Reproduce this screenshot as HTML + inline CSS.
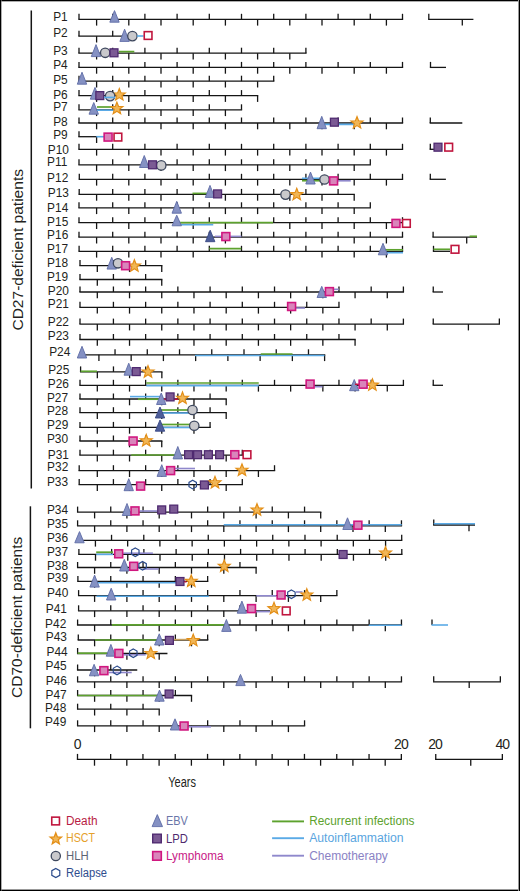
<!DOCTYPE html>
<html><head><meta charset="utf-8"><title>Figure</title>
<style>
html,body{margin:0;padding:0;background:#fff;}
body{width:520px;height:891px;overflow:hidden;font-family:"Liberation Sans",sans-serif;}
svg{display:block;}
</style></head><body>
<svg width="520" height="891" viewBox="0 0 520 891">
<rect x="0" y="0" width="520" height="891" fill="#ffffff"/>
<rect x="0" y="0" width="520" height="1" fill="#000"/>
<rect x="0" y="1" width="520" height="0.6" fill="#777"/>
<rect x="0" y="890" width="520" height="1" fill="#000"/>
<rect x="0" y="889" width="520" height="1" fill="#999"/>
<rect x="0" y="0" width="1" height="891" fill="#000"/>
<rect x="1" y="0" width="0.6" height="891" fill="#777"/>
<rect x="519" y="0" width="1" height="891" fill="#000"/>
<rect x="518" y="0" width="1" height="891" fill="#999"/>
<line x1="31.3" y1="10.5" x2="31.3" y2="488.5" stroke="#151515" stroke-width="1.5" stroke-linecap="butt"/>
<line x1="30.4" y1="506.3" x2="30.4" y2="728.3" stroke="#151515" stroke-width="1.5" stroke-linecap="butt"/>
<text transform="translate(22.9,330.6) rotate(-90)" font-family="Liberation Sans" font-size="15.5" fill="#231f20" textLength="161.6" lengthAdjust="spacingAndGlyphs">CD27-deficient patients</text>
<text transform="translate(22.0,697.9) rotate(-90)" font-family="Liberation Sans" font-size="15.5" fill="#231f20" textLength="161.2" lengthAdjust="spacingAndGlyphs">CD70-deficient patients</text>
<g font-family="Liberation Sans" font-size="11.9" fill="#231f20">
<text x="53.2" y="21.3">P1</text>
<text x="53.2" y="37.3">P2</text>
<text x="53.2" y="55">P3</text>
<text x="53.2" y="69.4">P4</text>
<text x="53.2" y="83.9">P5</text>
<text x="53.2" y="98.5">P6</text>
<text x="53.2" y="110.9">P7</text>
<text x="53.2" y="125.7">P8</text>
<text x="53.2" y="139.4">P9</text>
<text x="47.8" y="153.5">P10</text>
<text x="47.1" y="166.3">P11</text>
<text x="47.1" y="181.8">P12</text>
<text x="47.8" y="196.6">P13</text>
<text x="47.1" y="211.7">P14</text>
<text x="47.1" y="225.8">P15</text>
<text x="47.1" y="239.3">P16</text>
<text x="46.9" y="253">P17</text>
<text x="46.9" y="267.2">P18</text>
<text x="46.9" y="280.9">P19</text>
<text x="47.8" y="295">P20</text>
<text x="47.8" y="307.8">P21</text>
<text x="47.8" y="325.6">P22</text>
<text x="47.8" y="340.2">P23</text>
<text x="49.2" y="355.6">P24</text>
<text x="48.2" y="374">P25</text>
<text x="47.8" y="388.1">P26</text>
<text x="46.9" y="401.7">P27</text>
<text x="46.9" y="415.4">P28</text>
<text x="47.1" y="428.9">P29</text>
<text x="46.9" y="443.3">P30</text>
<text x="47.8" y="458.5">P31</text>
<text x="47.1" y="471.3">P32</text>
<text x="46.9" y="486.3">P33</text>
<text x="46.9" y="513.9">P34</text>
<text x="46.9" y="527.7">P35</text>
<text x="46.9" y="542.1">P36</text>
<text x="46.9" y="556">P37</text>
<text x="46.9" y="569.8">P38</text>
<text x="46.9" y="582.3">P39</text>
<text x="47.1" y="596.9">P40</text>
<text x="45.8" y="613.1">P41</text>
<text x="45.1" y="627.9">P42</text>
<text x="45.8" y="641.4">P43</text>
<text x="46.5" y="656.2">P44</text>
<text x="45.5" y="669.7">P45</text>
<text x="45.8" y="685.2">P46</text>
<text x="45.5" y="699.3">P47</text>
<text x="45.1" y="711.8">P48</text>
<text x="45.1" y="725.8">P49</text>
</g>
<line x1="78.35" y1="19.3" x2="403.15" y2="19.3" stroke="#151515" stroke-width="1.3" stroke-linecap="butt"/>
<line x1="79" y1="19.3" x2="79" y2="13.8" stroke="#151515" stroke-width="1.3" stroke-linecap="butt"/>
<line x1="96.6" y1="19.3" x2="96.6" y2="25.6" stroke="#151515" stroke-width="1.3" stroke-linecap="butt"/>
<line x1="112.7" y1="19.3" x2="112.7" y2="13.8" stroke="#151515" stroke-width="1.3" stroke-linecap="butt"/>
<line x1="128.8" y1="19.3" x2="128.8" y2="25.6" stroke="#151515" stroke-width="1.3" stroke-linecap="butt"/>
<line x1="144.9" y1="19.3" x2="144.9" y2="13.8" stroke="#151515" stroke-width="1.3" stroke-linecap="butt"/>
<line x1="161" y1="19.3" x2="161" y2="25.6" stroke="#151515" stroke-width="1.3" stroke-linecap="butt"/>
<line x1="177.1" y1="19.3" x2="177.1" y2="13.8" stroke="#151515" stroke-width="1.3" stroke-linecap="butt"/>
<line x1="193.2" y1="19.3" x2="193.2" y2="25.6" stroke="#151515" stroke-width="1.3" stroke-linecap="butt"/>
<line x1="209.3" y1="19.3" x2="209.3" y2="13.8" stroke="#151515" stroke-width="1.3" stroke-linecap="butt"/>
<line x1="225.4" y1="19.3" x2="225.4" y2="25.6" stroke="#151515" stroke-width="1.3" stroke-linecap="butt"/>
<line x1="241.5" y1="19.3" x2="241.5" y2="13.8" stroke="#151515" stroke-width="1.3" stroke-linecap="butt"/>
<line x1="257.6" y1="19.3" x2="257.6" y2="25.6" stroke="#151515" stroke-width="1.3" stroke-linecap="butt"/>
<line x1="273.7" y1="19.3" x2="273.7" y2="13.8" stroke="#151515" stroke-width="1.3" stroke-linecap="butt"/>
<line x1="289.8" y1="19.3" x2="289.8" y2="25.6" stroke="#151515" stroke-width="1.3" stroke-linecap="butt"/>
<line x1="305.9" y1="19.3" x2="305.9" y2="13.8" stroke="#151515" stroke-width="1.3" stroke-linecap="butt"/>
<line x1="322" y1="19.3" x2="322" y2="25.6" stroke="#151515" stroke-width="1.3" stroke-linecap="butt"/>
<line x1="338.1" y1="19.3" x2="338.1" y2="13.8" stroke="#151515" stroke-width="1.3" stroke-linecap="butt"/>
<line x1="354.2" y1="19.3" x2="354.2" y2="25.6" stroke="#151515" stroke-width="1.3" stroke-linecap="butt"/>
<line x1="370.3" y1="19.3" x2="370.3" y2="13.8" stroke="#151515" stroke-width="1.3" stroke-linecap="butt"/>
<line x1="386.4" y1="19.3" x2="386.4" y2="25.6" stroke="#151515" stroke-width="1.3" stroke-linecap="butt"/>
<line x1="402.5" y1="19.3" x2="402.5" y2="13.8" stroke="#151515" stroke-width="1.3" stroke-linecap="butt"/>
<line x1="428.15" y1="19.3" x2="473.4" y2="19.3" stroke="#151515" stroke-width="1.3" stroke-linecap="butt"/>
<line x1="428.8" y1="19.3" x2="428.8" y2="13.8" stroke="#151515" stroke-width="1.3" stroke-linecap="butt"/>
<line x1="462.3" y1="19.3" x2="462.3" y2="25.6" stroke="#151515" stroke-width="1.3" stroke-linecap="butt"/>
<path d="M114.5 10.6L119.2 22.2L109.8 22.2Z" fill="#8591c3" stroke="#5f6ca6" stroke-width="0.9" stroke-linejoin="miter"/>
<line x1="78.35" y1="36.2" x2="128" y2="36.2" stroke="#151515" stroke-width="1.3" stroke-linecap="butt"/>
<line x1="79" y1="36.2" x2="79" y2="30.7" stroke="#151515" stroke-width="1.3" stroke-linecap="butt"/>
<line x1="96.6" y1="36.2" x2="96.6" y2="42.5" stroke="#151515" stroke-width="1.3" stroke-linecap="butt"/>
<line x1="112.7" y1="36.2" x2="112.7" y2="30.7" stroke="#151515" stroke-width="1.3" stroke-linecap="butt"/>
<path d="M124.6 29.2L129.3 41.4L119.9 41.4Z" fill="#8591c3" stroke="#5f6ca6" stroke-width="0.9" stroke-linejoin="miter"/>
<circle cx="132.4" cy="36.1" r="4.7" fill="#c9c9cc" stroke="#3e485e" stroke-width="1.3"/>
<line x1="137" y1="36" x2="143.6" y2="36" stroke="#5aaae6" stroke-width="1.6" stroke-linecap="butt"/>
<rect x="144.25" y="31.65" width="7.7" height="7.7" fill="#ffffff" stroke="#c0163e" stroke-width="1.6"/>
<line x1="78.35" y1="53.2" x2="306.55" y2="53.2" stroke="#151515" stroke-width="1.3" stroke-linecap="butt"/>
<line x1="79" y1="53.2" x2="79" y2="47.7" stroke="#151515" stroke-width="1.3" stroke-linecap="butt"/>
<line x1="96.6" y1="53.2" x2="96.6" y2="59.5" stroke="#151515" stroke-width="1.3" stroke-linecap="butt"/>
<line x1="112.7" y1="53.2" x2="112.7" y2="47.7" stroke="#151515" stroke-width="1.3" stroke-linecap="butt"/>
<line x1="128.8" y1="53.2" x2="128.8" y2="59.5" stroke="#151515" stroke-width="1.3" stroke-linecap="butt"/>
<line x1="144.9" y1="53.2" x2="144.9" y2="47.7" stroke="#151515" stroke-width="1.3" stroke-linecap="butt"/>
<line x1="161" y1="53.2" x2="161" y2="59.5" stroke="#151515" stroke-width="1.3" stroke-linecap="butt"/>
<line x1="177.1" y1="53.2" x2="177.1" y2="47.7" stroke="#151515" stroke-width="1.3" stroke-linecap="butt"/>
<line x1="193.2" y1="53.2" x2="193.2" y2="59.5" stroke="#151515" stroke-width="1.3" stroke-linecap="butt"/>
<line x1="209.3" y1="53.2" x2="209.3" y2="47.7" stroke="#151515" stroke-width="1.3" stroke-linecap="butt"/>
<line x1="225.4" y1="53.2" x2="225.4" y2="59.5" stroke="#151515" stroke-width="1.3" stroke-linecap="butt"/>
<line x1="241.5" y1="53.2" x2="241.5" y2="47.7" stroke="#151515" stroke-width="1.3" stroke-linecap="butt"/>
<line x1="257.6" y1="53.2" x2="257.6" y2="59.5" stroke="#151515" stroke-width="1.3" stroke-linecap="butt"/>
<line x1="273.7" y1="53.2" x2="273.7" y2="47.7" stroke="#151515" stroke-width="1.3" stroke-linecap="butt"/>
<line x1="289.8" y1="53.2" x2="289.8" y2="59.5" stroke="#151515" stroke-width="1.3" stroke-linecap="butt"/>
<line x1="305.9" y1="53.2" x2="305.9" y2="47.7" stroke="#151515" stroke-width="1.3" stroke-linecap="butt"/>
<line x1="118.7" y1="51.6" x2="134.3" y2="51.6" stroke="#5da22e" stroke-width="1.7" stroke-linecap="butt"/>
<path d="M96 44.6L100.7 56.6L91.3 56.6Z" fill="#8591c3" stroke="#5f6ca6" stroke-width="0.9" stroke-linejoin="miter"/>
<circle cx="105.2" cy="52.8" r="4.7" fill="#c9c9cc" stroke="#3e485e" stroke-width="1.3"/>
<rect x="110.05" y="48.85" width="7.9" height="7.9" fill="#7b5a94" stroke="#4f2a70" stroke-width="1.3"/>
<line x1="78.35" y1="67.4" x2="403.15" y2="67.4" stroke="#151515" stroke-width="1.3" stroke-linecap="butt"/>
<line x1="79" y1="67.4" x2="79" y2="61.9" stroke="#151515" stroke-width="1.3" stroke-linecap="butt"/>
<line x1="96.6" y1="67.4" x2="96.6" y2="73.7" stroke="#151515" stroke-width="1.3" stroke-linecap="butt"/>
<line x1="112.7" y1="67.4" x2="112.7" y2="61.9" stroke="#151515" stroke-width="1.3" stroke-linecap="butt"/>
<line x1="128.8" y1="67.4" x2="128.8" y2="73.7" stroke="#151515" stroke-width="1.3" stroke-linecap="butt"/>
<line x1="144.9" y1="67.4" x2="144.9" y2="61.9" stroke="#151515" stroke-width="1.3" stroke-linecap="butt"/>
<line x1="161" y1="67.4" x2="161" y2="73.7" stroke="#151515" stroke-width="1.3" stroke-linecap="butt"/>
<line x1="177.1" y1="67.4" x2="177.1" y2="61.9" stroke="#151515" stroke-width="1.3" stroke-linecap="butt"/>
<line x1="193.2" y1="67.4" x2="193.2" y2="73.7" stroke="#151515" stroke-width="1.3" stroke-linecap="butt"/>
<line x1="209.3" y1="67.4" x2="209.3" y2="61.9" stroke="#151515" stroke-width="1.3" stroke-linecap="butt"/>
<line x1="225.4" y1="67.4" x2="225.4" y2="73.7" stroke="#151515" stroke-width="1.3" stroke-linecap="butt"/>
<line x1="241.5" y1="67.4" x2="241.5" y2="61.9" stroke="#151515" stroke-width="1.3" stroke-linecap="butt"/>
<line x1="257.6" y1="67.4" x2="257.6" y2="73.7" stroke="#151515" stroke-width="1.3" stroke-linecap="butt"/>
<line x1="273.7" y1="67.4" x2="273.7" y2="61.9" stroke="#151515" stroke-width="1.3" stroke-linecap="butt"/>
<line x1="289.8" y1="67.4" x2="289.8" y2="73.7" stroke="#151515" stroke-width="1.3" stroke-linecap="butt"/>
<line x1="305.9" y1="67.4" x2="305.9" y2="61.9" stroke="#151515" stroke-width="1.3" stroke-linecap="butt"/>
<line x1="322" y1="67.4" x2="322" y2="73.7" stroke="#151515" stroke-width="1.3" stroke-linecap="butt"/>
<line x1="338.1" y1="67.4" x2="338.1" y2="61.9" stroke="#151515" stroke-width="1.3" stroke-linecap="butt"/>
<line x1="354.2" y1="67.4" x2="354.2" y2="73.7" stroke="#151515" stroke-width="1.3" stroke-linecap="butt"/>
<line x1="370.3" y1="67.4" x2="370.3" y2="61.9" stroke="#151515" stroke-width="1.3" stroke-linecap="butt"/>
<line x1="386.4" y1="67.4" x2="386.4" y2="73.7" stroke="#151515" stroke-width="1.3" stroke-linecap="butt"/>
<line x1="402.5" y1="67.4" x2="402.5" y2="61.9" stroke="#151515" stroke-width="1.3" stroke-linecap="butt"/>
<line x1="429.85" y1="67.4" x2="446" y2="67.4" stroke="#151515" stroke-width="1.3" stroke-linecap="butt"/>
<line x1="430.5" y1="67.4" x2="430.5" y2="61.9" stroke="#151515" stroke-width="1.3" stroke-linecap="butt"/>
<line x1="78.35" y1="81.2" x2="274.35" y2="81.2" stroke="#151515" stroke-width="1.3" stroke-linecap="butt"/>
<line x1="79" y1="81.2" x2="79" y2="75.7" stroke="#151515" stroke-width="1.3" stroke-linecap="butt"/>
<line x1="96.6" y1="81.2" x2="96.6" y2="87.5" stroke="#151515" stroke-width="1.3" stroke-linecap="butt"/>
<line x1="112.7" y1="81.2" x2="112.7" y2="75.7" stroke="#151515" stroke-width="1.3" stroke-linecap="butt"/>
<line x1="128.8" y1="81.2" x2="128.8" y2="87.5" stroke="#151515" stroke-width="1.3" stroke-linecap="butt"/>
<line x1="144.9" y1="81.2" x2="144.9" y2="75.7" stroke="#151515" stroke-width="1.3" stroke-linecap="butt"/>
<line x1="161" y1="81.2" x2="161" y2="87.5" stroke="#151515" stroke-width="1.3" stroke-linecap="butt"/>
<line x1="177.1" y1="81.2" x2="177.1" y2="75.7" stroke="#151515" stroke-width="1.3" stroke-linecap="butt"/>
<line x1="193.2" y1="81.2" x2="193.2" y2="87.5" stroke="#151515" stroke-width="1.3" stroke-linecap="butt"/>
<line x1="209.3" y1="81.2" x2="209.3" y2="75.7" stroke="#151515" stroke-width="1.3" stroke-linecap="butt"/>
<line x1="225.4" y1="81.2" x2="225.4" y2="87.5" stroke="#151515" stroke-width="1.3" stroke-linecap="butt"/>
<line x1="241.5" y1="81.2" x2="241.5" y2="75.7" stroke="#151515" stroke-width="1.3" stroke-linecap="butt"/>
<line x1="257.6" y1="81.2" x2="257.6" y2="87.5" stroke="#151515" stroke-width="1.3" stroke-linecap="butt"/>
<line x1="273.7" y1="81.2" x2="273.7" y2="75.7" stroke="#151515" stroke-width="1.3" stroke-linecap="butt"/>
<path d="M82 72.2L86.7 84.2L77.3 84.2Z" fill="#8591c3" stroke="#5f6ca6" stroke-width="0.9" stroke-linejoin="miter"/>
<line x1="78.35" y1="95.6" x2="258.25" y2="95.6" stroke="#151515" stroke-width="1.3" stroke-linecap="butt"/>
<line x1="79" y1="95.6" x2="79" y2="90.1" stroke="#151515" stroke-width="1.3" stroke-linecap="butt"/>
<line x1="96.6" y1="95.6" x2="96.6" y2="101.9" stroke="#151515" stroke-width="1.3" stroke-linecap="butt"/>
<line x1="112.7" y1="95.6" x2="112.7" y2="90.1" stroke="#151515" stroke-width="1.3" stroke-linecap="butt"/>
<line x1="128.8" y1="95.6" x2="128.8" y2="101.9" stroke="#151515" stroke-width="1.3" stroke-linecap="butt"/>
<line x1="144.9" y1="95.6" x2="144.9" y2="90.1" stroke="#151515" stroke-width="1.3" stroke-linecap="butt"/>
<line x1="161" y1="95.6" x2="161" y2="101.9" stroke="#151515" stroke-width="1.3" stroke-linecap="butt"/>
<line x1="177.1" y1="95.6" x2="177.1" y2="90.1" stroke="#151515" stroke-width="1.3" stroke-linecap="butt"/>
<line x1="193.2" y1="95.6" x2="193.2" y2="101.9" stroke="#151515" stroke-width="1.3" stroke-linecap="butt"/>
<line x1="209.3" y1="95.6" x2="209.3" y2="90.1" stroke="#151515" stroke-width="1.3" stroke-linecap="butt"/>
<line x1="225.4" y1="95.6" x2="225.4" y2="101.9" stroke="#151515" stroke-width="1.3" stroke-linecap="butt"/>
<line x1="241.5" y1="95.6" x2="241.5" y2="90.1" stroke="#151515" stroke-width="1.3" stroke-linecap="butt"/>
<line x1="257.6" y1="95.6" x2="257.6" y2="101.9" stroke="#151515" stroke-width="1.3" stroke-linecap="butt"/>
<path d="M95 87.4L99.7 99.2L90.3 99.2Z" fill="#8591c3" stroke="#5f6ca6" stroke-width="0.9" stroke-linejoin="miter"/>
<rect x="95.85" y="91.65" width="7.9" height="7.9" fill="#7b5a94" stroke="#4f2a70" stroke-width="1.3"/>
<polygon points="119.3,88.55 120.89,92.72 125.34,92.94 121.87,95.73 123.03,100.04 119.3,97.6 115.57,100.04 116.73,95.73 113.26,92.94 117.71,92.72" fill="#f1b656" stroke="#e38f18" stroke-width="1.15" stroke-linejoin="miter"/>
<circle cx="110.1" cy="96.1" r="4.7" fill="#c9c9cc" stroke="#3e485e" stroke-width="1.3"/>
<line x1="104" y1="97.4" x2="115" y2="97.4" stroke="#5aaae6" stroke-width="1.6" stroke-linecap="butt"/>
<line x1="78.35" y1="109.8" x2="242.15" y2="109.8" stroke="#151515" stroke-width="1.3" stroke-linecap="butt"/>
<line x1="79" y1="109.8" x2="79" y2="104.3" stroke="#151515" stroke-width="1.3" stroke-linecap="butt"/>
<line x1="96.6" y1="109.8" x2="96.6" y2="116.1" stroke="#151515" stroke-width="1.3" stroke-linecap="butt"/>
<line x1="112.7" y1="109.8" x2="112.7" y2="104.3" stroke="#151515" stroke-width="1.3" stroke-linecap="butt"/>
<line x1="128.8" y1="109.8" x2="128.8" y2="116.1" stroke="#151515" stroke-width="1.3" stroke-linecap="butt"/>
<line x1="144.9" y1="109.8" x2="144.9" y2="104.3" stroke="#151515" stroke-width="1.3" stroke-linecap="butt"/>
<line x1="161" y1="109.8" x2="161" y2="116.1" stroke="#151515" stroke-width="1.3" stroke-linecap="butt"/>
<line x1="177.1" y1="109.8" x2="177.1" y2="104.3" stroke="#151515" stroke-width="1.3" stroke-linecap="butt"/>
<line x1="193.2" y1="109.8" x2="193.2" y2="116.1" stroke="#151515" stroke-width="1.3" stroke-linecap="butt"/>
<line x1="209.3" y1="109.8" x2="209.3" y2="104.3" stroke="#151515" stroke-width="1.3" stroke-linecap="butt"/>
<line x1="225.4" y1="109.8" x2="225.4" y2="116.1" stroke="#151515" stroke-width="1.3" stroke-linecap="butt"/>
<line x1="241.5" y1="109.8" x2="241.5" y2="104.3" stroke="#151515" stroke-width="1.3" stroke-linecap="butt"/>
<path d="M93.75 102.5L98.45 114.2L89.05 114.2Z" fill="#8591c3" stroke="#5f6ca6" stroke-width="0.9" stroke-linejoin="miter"/>
<line x1="97" y1="107" x2="114" y2="107" stroke="#5da22e" stroke-width="1.7" stroke-linecap="butt"/>
<line x1="97" y1="110.2" x2="114" y2="110.2" stroke="#5aaae6" stroke-width="1.6" stroke-linecap="butt"/>
<polygon points="116.9,102.15 118.49,106.32 122.94,106.54 119.47,109.33 120.63,113.64 116.9,111.2 113.17,113.64 114.33,109.33 110.86,106.54 115.31,106.32" fill="#f1b656" stroke="#e38f18" stroke-width="1.15" stroke-linejoin="miter"/>
<line x1="78.35" y1="123" x2="403.15" y2="123" stroke="#151515" stroke-width="1.3" stroke-linecap="butt"/>
<line x1="79" y1="123" x2="79" y2="117.5" stroke="#151515" stroke-width="1.3" stroke-linecap="butt"/>
<line x1="96.6" y1="123" x2="96.6" y2="129.3" stroke="#151515" stroke-width="1.3" stroke-linecap="butt"/>
<line x1="112.7" y1="123" x2="112.7" y2="117.5" stroke="#151515" stroke-width="1.3" stroke-linecap="butt"/>
<line x1="128.8" y1="123" x2="128.8" y2="129.3" stroke="#151515" stroke-width="1.3" stroke-linecap="butt"/>
<line x1="144.9" y1="123" x2="144.9" y2="117.5" stroke="#151515" stroke-width="1.3" stroke-linecap="butt"/>
<line x1="161" y1="123" x2="161" y2="129.3" stroke="#151515" stroke-width="1.3" stroke-linecap="butt"/>
<line x1="177.1" y1="123" x2="177.1" y2="117.5" stroke="#151515" stroke-width="1.3" stroke-linecap="butt"/>
<line x1="193.2" y1="123" x2="193.2" y2="129.3" stroke="#151515" stroke-width="1.3" stroke-linecap="butt"/>
<line x1="209.3" y1="123" x2="209.3" y2="117.5" stroke="#151515" stroke-width="1.3" stroke-linecap="butt"/>
<line x1="225.4" y1="123" x2="225.4" y2="129.3" stroke="#151515" stroke-width="1.3" stroke-linecap="butt"/>
<line x1="241.5" y1="123" x2="241.5" y2="117.5" stroke="#151515" stroke-width="1.3" stroke-linecap="butt"/>
<line x1="257.6" y1="123" x2="257.6" y2="129.3" stroke="#151515" stroke-width="1.3" stroke-linecap="butt"/>
<line x1="273.7" y1="123" x2="273.7" y2="117.5" stroke="#151515" stroke-width="1.3" stroke-linecap="butt"/>
<line x1="289.8" y1="123" x2="289.8" y2="129.3" stroke="#151515" stroke-width="1.3" stroke-linecap="butt"/>
<line x1="305.9" y1="123" x2="305.9" y2="117.5" stroke="#151515" stroke-width="1.3" stroke-linecap="butt"/>
<line x1="322" y1="123" x2="322" y2="129.3" stroke="#151515" stroke-width="1.3" stroke-linecap="butt"/>
<line x1="338.1" y1="123" x2="338.1" y2="117.5" stroke="#151515" stroke-width="1.3" stroke-linecap="butt"/>
<line x1="354.2" y1="123" x2="354.2" y2="129.3" stroke="#151515" stroke-width="1.3" stroke-linecap="butt"/>
<line x1="370.3" y1="123" x2="370.3" y2="117.5" stroke="#151515" stroke-width="1.3" stroke-linecap="butt"/>
<line x1="386.4" y1="123" x2="386.4" y2="129.3" stroke="#151515" stroke-width="1.3" stroke-linecap="butt"/>
<line x1="402.5" y1="123" x2="402.5" y2="117.5" stroke="#151515" stroke-width="1.3" stroke-linecap="butt"/>
<line x1="429.65" y1="123" x2="462.3" y2="123" stroke="#151515" stroke-width="1.3" stroke-linecap="butt"/>
<line x1="430.3" y1="123" x2="430.3" y2="117.5" stroke="#151515" stroke-width="1.3" stroke-linecap="butt"/>
<line x1="321.75" y1="124.4" x2="357" y2="124.4" stroke="#5aaae6" stroke-width="1.7" stroke-linecap="butt"/>
<path d="M321.75 116.3L326.45 128.7L317.05 128.7Z" fill="#8591c3" stroke="#5f6ca6" stroke-width="0.9" stroke-linejoin="miter"/>
<rect x="330.45" y="118.25" width="7.9" height="7.9" fill="#7b5a94" stroke="#4f2a70" stroke-width="1.3"/>
<polygon points="357,116.55 358.59,120.72 363.04,120.94 359.57,123.73 360.73,128.04 357,125.6 353.27,128.04 354.43,123.73 350.96,120.94 355.41,120.72" fill="#f1b656" stroke="#e38f18" stroke-width="1.15" stroke-linejoin="miter"/>
<line x1="78.35" y1="136.7" x2="97.15" y2="136.7" stroke="#151515" stroke-width="1.3" stroke-linecap="butt"/>
<line x1="79" y1="136.7" x2="79" y2="131.2" stroke="#151515" stroke-width="1.3" stroke-linecap="butt"/>
<line x1="96.6" y1="136.7" x2="96.6" y2="143" stroke="#151515" stroke-width="1.3" stroke-linecap="butt"/>
<line x1="96.3" y1="136.7" x2="104" y2="136.7" stroke="#5aaae6" stroke-width="1.6" stroke-linecap="butt"/>
<rect x="104.15" y="133.15" width="7.9" height="7.9" fill="#d985bb" stroke="#d0177f" stroke-width="1.6"/>
<rect x="114.05" y="133.25" width="7.7" height="7.7" fill="#ffffff" stroke="#c0163e" stroke-width="1.6"/>
<line x1="78.35" y1="149.3" x2="403.15" y2="149.3" stroke="#151515" stroke-width="1.3" stroke-linecap="butt"/>
<line x1="79" y1="149.3" x2="79" y2="143.8" stroke="#151515" stroke-width="1.3" stroke-linecap="butt"/>
<line x1="96.6" y1="149.3" x2="96.6" y2="155.6" stroke="#151515" stroke-width="1.3" stroke-linecap="butt"/>
<line x1="112.7" y1="149.3" x2="112.7" y2="143.8" stroke="#151515" stroke-width="1.3" stroke-linecap="butt"/>
<line x1="128.8" y1="149.3" x2="128.8" y2="155.6" stroke="#151515" stroke-width="1.3" stroke-linecap="butt"/>
<line x1="144.9" y1="149.3" x2="144.9" y2="143.8" stroke="#151515" stroke-width="1.3" stroke-linecap="butt"/>
<line x1="161" y1="149.3" x2="161" y2="155.6" stroke="#151515" stroke-width="1.3" stroke-linecap="butt"/>
<line x1="177.1" y1="149.3" x2="177.1" y2="143.8" stroke="#151515" stroke-width="1.3" stroke-linecap="butt"/>
<line x1="193.2" y1="149.3" x2="193.2" y2="155.6" stroke="#151515" stroke-width="1.3" stroke-linecap="butt"/>
<line x1="209.3" y1="149.3" x2="209.3" y2="143.8" stroke="#151515" stroke-width="1.3" stroke-linecap="butt"/>
<line x1="225.4" y1="149.3" x2="225.4" y2="155.6" stroke="#151515" stroke-width="1.3" stroke-linecap="butt"/>
<line x1="241.5" y1="149.3" x2="241.5" y2="143.8" stroke="#151515" stroke-width="1.3" stroke-linecap="butt"/>
<line x1="257.6" y1="149.3" x2="257.6" y2="155.6" stroke="#151515" stroke-width="1.3" stroke-linecap="butt"/>
<line x1="273.7" y1="149.3" x2="273.7" y2="143.8" stroke="#151515" stroke-width="1.3" stroke-linecap="butt"/>
<line x1="289.8" y1="149.3" x2="289.8" y2="155.6" stroke="#151515" stroke-width="1.3" stroke-linecap="butt"/>
<line x1="305.9" y1="149.3" x2="305.9" y2="143.8" stroke="#151515" stroke-width="1.3" stroke-linecap="butt"/>
<line x1="322" y1="149.3" x2="322" y2="155.6" stroke="#151515" stroke-width="1.3" stroke-linecap="butt"/>
<line x1="338.1" y1="149.3" x2="338.1" y2="143.8" stroke="#151515" stroke-width="1.3" stroke-linecap="butt"/>
<line x1="354.2" y1="149.3" x2="354.2" y2="155.6" stroke="#151515" stroke-width="1.3" stroke-linecap="butt"/>
<line x1="370.3" y1="149.3" x2="370.3" y2="143.8" stroke="#151515" stroke-width="1.3" stroke-linecap="butt"/>
<line x1="386.4" y1="149.3" x2="386.4" y2="155.6" stroke="#151515" stroke-width="1.3" stroke-linecap="butt"/>
<line x1="402.5" y1="149.3" x2="402.5" y2="143.8" stroke="#151515" stroke-width="1.3" stroke-linecap="butt"/>
<line x1="430.3" y1="149.3" x2="430.3" y2="143.8" stroke="#151515" stroke-width="1.3" stroke-linecap="butt"/>
<line x1="429.6" y1="149.3" x2="434" y2="149.3" stroke="#151515" stroke-width="1.3" stroke-linecap="butt"/>
<rect x="434.05" y="143.25" width="7.9" height="7.9" fill="#7b5a94" stroke="#4f2a70" stroke-width="1.3"/>
<rect x="444.85" y="143.35" width="7.7" height="7.7" fill="#ffffff" stroke="#c0163e" stroke-width="1.6"/>
<line x1="78.35" y1="164.8" x2="370.95" y2="164.8" stroke="#151515" stroke-width="1.3" stroke-linecap="butt"/>
<line x1="79" y1="164.8" x2="79" y2="159.3" stroke="#151515" stroke-width="1.3" stroke-linecap="butt"/>
<line x1="96.6" y1="164.8" x2="96.6" y2="171.1" stroke="#151515" stroke-width="1.3" stroke-linecap="butt"/>
<line x1="112.7" y1="164.8" x2="112.7" y2="159.3" stroke="#151515" stroke-width="1.3" stroke-linecap="butt"/>
<line x1="128.8" y1="164.8" x2="128.8" y2="171.1" stroke="#151515" stroke-width="1.3" stroke-linecap="butt"/>
<line x1="144.9" y1="164.8" x2="144.9" y2="159.3" stroke="#151515" stroke-width="1.3" stroke-linecap="butt"/>
<line x1="161" y1="164.8" x2="161" y2="171.1" stroke="#151515" stroke-width="1.3" stroke-linecap="butt"/>
<line x1="177.1" y1="164.8" x2="177.1" y2="159.3" stroke="#151515" stroke-width="1.3" stroke-linecap="butt"/>
<line x1="193.2" y1="164.8" x2="193.2" y2="171.1" stroke="#151515" stroke-width="1.3" stroke-linecap="butt"/>
<line x1="209.3" y1="164.8" x2="209.3" y2="159.3" stroke="#151515" stroke-width="1.3" stroke-linecap="butt"/>
<line x1="225.4" y1="164.8" x2="225.4" y2="171.1" stroke="#151515" stroke-width="1.3" stroke-linecap="butt"/>
<line x1="241.5" y1="164.8" x2="241.5" y2="159.3" stroke="#151515" stroke-width="1.3" stroke-linecap="butt"/>
<line x1="257.6" y1="164.8" x2="257.6" y2="171.1" stroke="#151515" stroke-width="1.3" stroke-linecap="butt"/>
<line x1="273.7" y1="164.8" x2="273.7" y2="159.3" stroke="#151515" stroke-width="1.3" stroke-linecap="butt"/>
<line x1="289.8" y1="164.8" x2="289.8" y2="171.1" stroke="#151515" stroke-width="1.3" stroke-linecap="butt"/>
<line x1="305.9" y1="164.8" x2="305.9" y2="159.3" stroke="#151515" stroke-width="1.3" stroke-linecap="butt"/>
<line x1="322" y1="164.8" x2="322" y2="171.1" stroke="#151515" stroke-width="1.3" stroke-linecap="butt"/>
<line x1="338.1" y1="164.8" x2="338.1" y2="159.3" stroke="#151515" stroke-width="1.3" stroke-linecap="butt"/>
<line x1="354.2" y1="164.8" x2="354.2" y2="171.1" stroke="#151515" stroke-width="1.3" stroke-linecap="butt"/>
<line x1="370.3" y1="164.8" x2="370.3" y2="159.3" stroke="#151515" stroke-width="1.3" stroke-linecap="butt"/>
<path d="M144.25 155.5L148.95 167.5L139.55 167.5Z" fill="#8591c3" stroke="#5f6ca6" stroke-width="0.9" stroke-linejoin="miter"/>
<circle cx="161.25" cy="165.4" r="4.7" fill="#c9c9cc" stroke="#3e485e" stroke-width="1.3"/>
<rect x="148.55" y="160.85" width="7.9" height="7.9" fill="#7b5a94" stroke="#4f2a70" stroke-width="1.3"/>
<line x1="78.65" y1="179.3" x2="403.15" y2="179.3" stroke="#151515" stroke-width="1.3" stroke-linecap="butt"/>
<line x1="79.3" y1="179.3" x2="79.3" y2="173.8" stroke="#151515" stroke-width="1.3" stroke-linecap="butt"/>
<line x1="96.6" y1="179.3" x2="96.6" y2="185.6" stroke="#151515" stroke-width="1.3" stroke-linecap="butt"/>
<line x1="112.7" y1="179.3" x2="112.7" y2="173.8" stroke="#151515" stroke-width="1.3" stroke-linecap="butt"/>
<line x1="128.8" y1="179.3" x2="128.8" y2="185.6" stroke="#151515" stroke-width="1.3" stroke-linecap="butt"/>
<line x1="144.9" y1="179.3" x2="144.9" y2="173.8" stroke="#151515" stroke-width="1.3" stroke-linecap="butt"/>
<line x1="161" y1="179.3" x2="161" y2="185.6" stroke="#151515" stroke-width="1.3" stroke-linecap="butt"/>
<line x1="177.1" y1="179.3" x2="177.1" y2="173.8" stroke="#151515" stroke-width="1.3" stroke-linecap="butt"/>
<line x1="193.2" y1="179.3" x2="193.2" y2="185.6" stroke="#151515" stroke-width="1.3" stroke-linecap="butt"/>
<line x1="209.3" y1="179.3" x2="209.3" y2="173.8" stroke="#151515" stroke-width="1.3" stroke-linecap="butt"/>
<line x1="225.4" y1="179.3" x2="225.4" y2="185.6" stroke="#151515" stroke-width="1.3" stroke-linecap="butt"/>
<line x1="241.5" y1="179.3" x2="241.5" y2="173.8" stroke="#151515" stroke-width="1.3" stroke-linecap="butt"/>
<line x1="257.6" y1="179.3" x2="257.6" y2="185.6" stroke="#151515" stroke-width="1.3" stroke-linecap="butt"/>
<line x1="273.7" y1="179.3" x2="273.7" y2="173.8" stroke="#151515" stroke-width="1.3" stroke-linecap="butt"/>
<line x1="289.8" y1="179.3" x2="289.8" y2="185.6" stroke="#151515" stroke-width="1.3" stroke-linecap="butt"/>
<line x1="305.9" y1="179.3" x2="305.9" y2="173.8" stroke="#151515" stroke-width="1.3" stroke-linecap="butt"/>
<line x1="322" y1="179.3" x2="322" y2="185.6" stroke="#151515" stroke-width="1.3" stroke-linecap="butt"/>
<line x1="338.1" y1="179.3" x2="338.1" y2="173.8" stroke="#151515" stroke-width="1.3" stroke-linecap="butt"/>
<line x1="354.2" y1="179.3" x2="354.2" y2="185.6" stroke="#151515" stroke-width="1.3" stroke-linecap="butt"/>
<line x1="370.3" y1="179.3" x2="370.3" y2="173.8" stroke="#151515" stroke-width="1.3" stroke-linecap="butt"/>
<line x1="386.4" y1="179.3" x2="386.4" y2="185.6" stroke="#151515" stroke-width="1.3" stroke-linecap="butt"/>
<line x1="402.5" y1="179.3" x2="402.5" y2="173.8" stroke="#151515" stroke-width="1.3" stroke-linecap="butt"/>
<line x1="429.65" y1="179.3" x2="445.9" y2="179.3" stroke="#151515" stroke-width="1.3" stroke-linecap="butt"/>
<line x1="430.3" y1="179.3" x2="430.3" y2="173.8" stroke="#151515" stroke-width="1.3" stroke-linecap="butt"/>
<line x1="302" y1="178.3" x2="320" y2="178.3" stroke="#5aaae6" stroke-width="1.6" stroke-linecap="butt"/>
<line x1="302" y1="180.7" x2="320" y2="180.7" stroke="#5da22e" stroke-width="1.7" stroke-linecap="butt"/>
<path d="M310.5 172.1L315.2 184L305.8 184Z" fill="#8591c3" stroke="#5f6ca6" stroke-width="0.9" stroke-linejoin="miter"/>
<circle cx="324.5" cy="179.5" r="4.7" fill="#c9c9cc" stroke="#3e485e" stroke-width="1.3"/>
<line x1="338" y1="180.8" x2="350.75" y2="180.8" stroke="#8f88cc" stroke-width="1.6" stroke-linecap="butt"/>
<rect x="329.65" y="176.95" width="7.9" height="7.9" fill="#d985bb" stroke="#d0177f" stroke-width="1.6"/>
<line x1="78.55" y1="194.4" x2="354.85" y2="194.4" stroke="#151515" stroke-width="1.3" stroke-linecap="butt"/>
<line x1="79.2" y1="194.4" x2="79.2" y2="188.9" stroke="#151515" stroke-width="1.3" stroke-linecap="butt"/>
<line x1="96.6" y1="194.4" x2="96.6" y2="200.7" stroke="#151515" stroke-width="1.3" stroke-linecap="butt"/>
<line x1="112.7" y1="194.4" x2="112.7" y2="188.9" stroke="#151515" stroke-width="1.3" stroke-linecap="butt"/>
<line x1="128.8" y1="194.4" x2="128.8" y2="200.7" stroke="#151515" stroke-width="1.3" stroke-linecap="butt"/>
<line x1="144.9" y1="194.4" x2="144.9" y2="188.9" stroke="#151515" stroke-width="1.3" stroke-linecap="butt"/>
<line x1="161" y1="194.4" x2="161" y2="200.7" stroke="#151515" stroke-width="1.3" stroke-linecap="butt"/>
<line x1="177.1" y1="194.4" x2="177.1" y2="188.9" stroke="#151515" stroke-width="1.3" stroke-linecap="butt"/>
<line x1="193.2" y1="194.4" x2="193.2" y2="200.7" stroke="#151515" stroke-width="1.3" stroke-linecap="butt"/>
<line x1="209.3" y1="194.4" x2="209.3" y2="188.9" stroke="#151515" stroke-width="1.3" stroke-linecap="butt"/>
<line x1="225.4" y1="194.4" x2="225.4" y2="200.7" stroke="#151515" stroke-width="1.3" stroke-linecap="butt"/>
<line x1="241.5" y1="194.4" x2="241.5" y2="188.9" stroke="#151515" stroke-width="1.3" stroke-linecap="butt"/>
<line x1="257.6" y1="194.4" x2="257.6" y2="200.7" stroke="#151515" stroke-width="1.3" stroke-linecap="butt"/>
<line x1="273.7" y1="194.4" x2="273.7" y2="188.9" stroke="#151515" stroke-width="1.3" stroke-linecap="butt"/>
<line x1="289.8" y1="194.4" x2="289.8" y2="200.7" stroke="#151515" stroke-width="1.3" stroke-linecap="butt"/>
<line x1="305.9" y1="194.4" x2="305.9" y2="188.9" stroke="#151515" stroke-width="1.3" stroke-linecap="butt"/>
<line x1="322" y1="194.4" x2="322" y2="200.7" stroke="#151515" stroke-width="1.3" stroke-linecap="butt"/>
<line x1="338.1" y1="194.4" x2="338.1" y2="188.9" stroke="#151515" stroke-width="1.3" stroke-linecap="butt"/>
<line x1="354.2" y1="194.4" x2="354.2" y2="200.7" stroke="#151515" stroke-width="1.3" stroke-linecap="butt"/>
<line x1="192.5" y1="193.4" x2="207" y2="193.4" stroke="#5da22e" stroke-width="1.7" stroke-linecap="butt"/>
<path d="M210 185.4L214.7 197.4L205.3 197.4Z" fill="#8591c3" stroke="#5f6ca6" stroke-width="0.9" stroke-linejoin="miter"/>
<rect x="213.65" y="189.95" width="7.9" height="7.9" fill="#7b5a94" stroke="#4f2a70" stroke-width="1.3"/>
<circle cx="285.5" cy="194.6" r="4.7" fill="#c9c9cc" stroke="#3e485e" stroke-width="1.3"/>
<polygon points="296.75,188.25 298.34,192.42 302.79,192.64 299.32,195.43 300.48,199.74 296.75,197.3 293.02,199.74 294.18,195.43 290.71,192.64 295.16,192.42" fill="#f1b656" stroke="#e38f18" stroke-width="1.15" stroke-linejoin="miter"/>
<line x1="78.35" y1="207.8" x2="370.95" y2="207.8" stroke="#151515" stroke-width="1.3" stroke-linecap="butt"/>
<line x1="79" y1="207.8" x2="79" y2="202.3" stroke="#151515" stroke-width="1.3" stroke-linecap="butt"/>
<line x1="96.6" y1="207.8" x2="96.6" y2="214.1" stroke="#151515" stroke-width="1.3" stroke-linecap="butt"/>
<line x1="112.7" y1="207.8" x2="112.7" y2="202.3" stroke="#151515" stroke-width="1.3" stroke-linecap="butt"/>
<line x1="128.8" y1="207.8" x2="128.8" y2="214.1" stroke="#151515" stroke-width="1.3" stroke-linecap="butt"/>
<line x1="144.9" y1="207.8" x2="144.9" y2="202.3" stroke="#151515" stroke-width="1.3" stroke-linecap="butt"/>
<line x1="161" y1="207.8" x2="161" y2="214.1" stroke="#151515" stroke-width="1.3" stroke-linecap="butt"/>
<line x1="177.1" y1="207.8" x2="177.1" y2="202.3" stroke="#151515" stroke-width="1.3" stroke-linecap="butt"/>
<line x1="193.2" y1="207.8" x2="193.2" y2="214.1" stroke="#151515" stroke-width="1.3" stroke-linecap="butt"/>
<line x1="209.3" y1="207.8" x2="209.3" y2="202.3" stroke="#151515" stroke-width="1.3" stroke-linecap="butt"/>
<line x1="225.4" y1="207.8" x2="225.4" y2="214.1" stroke="#151515" stroke-width="1.3" stroke-linecap="butt"/>
<line x1="241.5" y1="207.8" x2="241.5" y2="202.3" stroke="#151515" stroke-width="1.3" stroke-linecap="butt"/>
<line x1="257.6" y1="207.8" x2="257.6" y2="214.1" stroke="#151515" stroke-width="1.3" stroke-linecap="butt"/>
<line x1="273.7" y1="207.8" x2="273.7" y2="202.3" stroke="#151515" stroke-width="1.3" stroke-linecap="butt"/>
<line x1="289.8" y1="207.8" x2="289.8" y2="214.1" stroke="#151515" stroke-width="1.3" stroke-linecap="butt"/>
<line x1="305.9" y1="207.8" x2="305.9" y2="202.3" stroke="#151515" stroke-width="1.3" stroke-linecap="butt"/>
<line x1="322" y1="207.8" x2="322" y2="214.1" stroke="#151515" stroke-width="1.3" stroke-linecap="butt"/>
<line x1="338.1" y1="207.8" x2="338.1" y2="202.3" stroke="#151515" stroke-width="1.3" stroke-linecap="butt"/>
<line x1="354.2" y1="207.8" x2="354.2" y2="214.1" stroke="#151515" stroke-width="1.3" stroke-linecap="butt"/>
<line x1="370.3" y1="207.8" x2="370.3" y2="202.3" stroke="#151515" stroke-width="1.3" stroke-linecap="butt"/>
<path d="M176.75 201.3L181.45 213.2L172.05 213.2Z" fill="#8591c3" stroke="#5f6ca6" stroke-width="0.9" stroke-linejoin="miter"/>
<line x1="78.35" y1="222.7" x2="403.15" y2="222.7" stroke="#151515" stroke-width="1.3" stroke-linecap="butt"/>
<line x1="79" y1="222.7" x2="79" y2="217.2" stroke="#151515" stroke-width="1.3" stroke-linecap="butt"/>
<line x1="96.6" y1="222.7" x2="96.6" y2="229" stroke="#151515" stroke-width="1.3" stroke-linecap="butt"/>
<line x1="112.7" y1="222.7" x2="112.7" y2="217.2" stroke="#151515" stroke-width="1.3" stroke-linecap="butt"/>
<line x1="128.8" y1="222.7" x2="128.8" y2="229" stroke="#151515" stroke-width="1.3" stroke-linecap="butt"/>
<line x1="144.9" y1="222.7" x2="144.9" y2="217.2" stroke="#151515" stroke-width="1.3" stroke-linecap="butt"/>
<line x1="161" y1="222.7" x2="161" y2="229" stroke="#151515" stroke-width="1.3" stroke-linecap="butt"/>
<line x1="177.1" y1="222.7" x2="177.1" y2="217.2" stroke="#151515" stroke-width="1.3" stroke-linecap="butt"/>
<line x1="193.2" y1="222.7" x2="193.2" y2="229" stroke="#151515" stroke-width="1.3" stroke-linecap="butt"/>
<line x1="209.3" y1="222.7" x2="209.3" y2="217.2" stroke="#151515" stroke-width="1.3" stroke-linecap="butt"/>
<line x1="225.4" y1="222.7" x2="225.4" y2="229" stroke="#151515" stroke-width="1.3" stroke-linecap="butt"/>
<line x1="241.5" y1="222.7" x2="241.5" y2="217.2" stroke="#151515" stroke-width="1.3" stroke-linecap="butt"/>
<line x1="257.6" y1="222.7" x2="257.6" y2="229" stroke="#151515" stroke-width="1.3" stroke-linecap="butt"/>
<line x1="273.7" y1="222.7" x2="273.7" y2="217.2" stroke="#151515" stroke-width="1.3" stroke-linecap="butt"/>
<line x1="289.8" y1="222.7" x2="289.8" y2="229" stroke="#151515" stroke-width="1.3" stroke-linecap="butt"/>
<line x1="305.9" y1="222.7" x2="305.9" y2="217.2" stroke="#151515" stroke-width="1.3" stroke-linecap="butt"/>
<line x1="322" y1="222.7" x2="322" y2="229" stroke="#151515" stroke-width="1.3" stroke-linecap="butt"/>
<line x1="338.1" y1="222.7" x2="338.1" y2="217.2" stroke="#151515" stroke-width="1.3" stroke-linecap="butt"/>
<line x1="354.2" y1="222.7" x2="354.2" y2="229" stroke="#151515" stroke-width="1.3" stroke-linecap="butt"/>
<line x1="370.3" y1="222.7" x2="370.3" y2="217.2" stroke="#151515" stroke-width="1.3" stroke-linecap="butt"/>
<line x1="386.4" y1="222.7" x2="386.4" y2="229" stroke="#151515" stroke-width="1.3" stroke-linecap="butt"/>
<line x1="402.5" y1="222.7" x2="402.5" y2="217.2" stroke="#151515" stroke-width="1.3" stroke-linecap="butt"/>
<line x1="176.75" y1="222.6" x2="273" y2="222.6" stroke="#5da22e" stroke-width="1.7" stroke-linecap="butt"/>
<line x1="176.75" y1="224.8" x2="213.25" y2="224.8" stroke="#5aaae6" stroke-width="1.6" stroke-linecap="butt"/>
<path d="M176.75 215.2L181.45 225.8L172.05 225.8Z" fill="#8591c3" stroke="#5f6ca6" stroke-width="0.9" stroke-linejoin="miter"/>
<rect x="392.05" y="219.45" width="7.9" height="7.9" fill="#d985bb" stroke="#d0177f" stroke-width="1.6"/>
<rect x="402.55" y="219.55" width="7.7" height="7.7" fill="#ffffff" stroke="#c0163e" stroke-width="1.6"/>
<line x1="78.35" y1="237.2" x2="403.15" y2="237.2" stroke="#151515" stroke-width="1.3" stroke-linecap="butt"/>
<line x1="79" y1="237.2" x2="79" y2="231.7" stroke="#151515" stroke-width="1.3" stroke-linecap="butt"/>
<line x1="96.6" y1="237.2" x2="96.6" y2="243.5" stroke="#151515" stroke-width="1.3" stroke-linecap="butt"/>
<line x1="112.7" y1="237.2" x2="112.7" y2="231.7" stroke="#151515" stroke-width="1.3" stroke-linecap="butt"/>
<line x1="128.8" y1="237.2" x2="128.8" y2="243.5" stroke="#151515" stroke-width="1.3" stroke-linecap="butt"/>
<line x1="144.9" y1="237.2" x2="144.9" y2="231.7" stroke="#151515" stroke-width="1.3" stroke-linecap="butt"/>
<line x1="161" y1="237.2" x2="161" y2="243.5" stroke="#151515" stroke-width="1.3" stroke-linecap="butt"/>
<line x1="177.1" y1="237.2" x2="177.1" y2="231.7" stroke="#151515" stroke-width="1.3" stroke-linecap="butt"/>
<line x1="193.2" y1="237.2" x2="193.2" y2="243.5" stroke="#151515" stroke-width="1.3" stroke-linecap="butt"/>
<line x1="209.3" y1="237.2" x2="209.3" y2="231.7" stroke="#151515" stroke-width="1.3" stroke-linecap="butt"/>
<line x1="225.4" y1="237.2" x2="225.4" y2="243.5" stroke="#151515" stroke-width="1.3" stroke-linecap="butt"/>
<line x1="241.5" y1="237.2" x2="241.5" y2="231.7" stroke="#151515" stroke-width="1.3" stroke-linecap="butt"/>
<line x1="257.6" y1="237.2" x2="257.6" y2="243.5" stroke="#151515" stroke-width="1.3" stroke-linecap="butt"/>
<line x1="273.7" y1="237.2" x2="273.7" y2="231.7" stroke="#151515" stroke-width="1.3" stroke-linecap="butt"/>
<line x1="289.8" y1="237.2" x2="289.8" y2="243.5" stroke="#151515" stroke-width="1.3" stroke-linecap="butt"/>
<line x1="305.9" y1="237.2" x2="305.9" y2="231.7" stroke="#151515" stroke-width="1.3" stroke-linecap="butt"/>
<line x1="322" y1="237.2" x2="322" y2="243.5" stroke="#151515" stroke-width="1.3" stroke-linecap="butt"/>
<line x1="338.1" y1="237.2" x2="338.1" y2="231.7" stroke="#151515" stroke-width="1.3" stroke-linecap="butt"/>
<line x1="354.2" y1="237.2" x2="354.2" y2="243.5" stroke="#151515" stroke-width="1.3" stroke-linecap="butt"/>
<line x1="370.3" y1="237.2" x2="370.3" y2="231.7" stroke="#151515" stroke-width="1.3" stroke-linecap="butt"/>
<line x1="386.4" y1="237.2" x2="386.4" y2="243.5" stroke="#151515" stroke-width="1.3" stroke-linecap="butt"/>
<line x1="402.5" y1="237.2" x2="402.5" y2="231.7" stroke="#151515" stroke-width="1.3" stroke-linecap="butt"/>
<line x1="432.45" y1="237.2" x2="477" y2="237.2" stroke="#151515" stroke-width="1.3" stroke-linecap="butt"/>
<line x1="433.1" y1="237.2" x2="433.1" y2="231.7" stroke="#151515" stroke-width="1.3" stroke-linecap="butt"/>
<line x1="466.7" y1="237.2" x2="466.7" y2="243.5" stroke="#151515" stroke-width="1.3" stroke-linecap="butt"/>
<line x1="469.6" y1="236.3" x2="477" y2="236.3" stroke="#5da22e" stroke-width="1.7" stroke-linecap="butt"/>
<line x1="215" y1="236.4" x2="241.5" y2="236.4" stroke="#8f88cc" stroke-width="1.6" stroke-linecap="butt"/>
<path d="M210.2 230.2L214.9 241.7L205.5 241.7Z" fill="#4e5e9a" stroke="#3a4985" stroke-width="0.9" stroke-linejoin="miter"/>
<rect x="221.9" y="232.6" width="7.9" height="7.9" fill="#d985bb" stroke="#d0177f" stroke-width="1.6"/>
<line x1="78.45" y1="251.3" x2="403.15" y2="251.3" stroke="#151515" stroke-width="1.3" stroke-linecap="butt"/>
<line x1="79.1" y1="251.3" x2="79.1" y2="245.8" stroke="#151515" stroke-width="1.3" stroke-linecap="butt"/>
<line x1="96.6" y1="251.3" x2="96.6" y2="257.6" stroke="#151515" stroke-width="1.3" stroke-linecap="butt"/>
<line x1="112.7" y1="251.3" x2="112.7" y2="245.8" stroke="#151515" stroke-width="1.3" stroke-linecap="butt"/>
<line x1="128.8" y1="251.3" x2="128.8" y2="257.6" stroke="#151515" stroke-width="1.3" stroke-linecap="butt"/>
<line x1="144.9" y1="251.3" x2="144.9" y2="245.8" stroke="#151515" stroke-width="1.3" stroke-linecap="butt"/>
<line x1="161" y1="251.3" x2="161" y2="257.6" stroke="#151515" stroke-width="1.3" stroke-linecap="butt"/>
<line x1="177.1" y1="251.3" x2="177.1" y2="245.8" stroke="#151515" stroke-width="1.3" stroke-linecap="butt"/>
<line x1="193.2" y1="251.3" x2="193.2" y2="257.6" stroke="#151515" stroke-width="1.3" stroke-linecap="butt"/>
<line x1="209.3" y1="251.3" x2="209.3" y2="245.8" stroke="#151515" stroke-width="1.3" stroke-linecap="butt"/>
<line x1="225.4" y1="251.3" x2="225.4" y2="257.6" stroke="#151515" stroke-width="1.3" stroke-linecap="butt"/>
<line x1="241.5" y1="251.3" x2="241.5" y2="245.8" stroke="#151515" stroke-width="1.3" stroke-linecap="butt"/>
<line x1="257.6" y1="251.3" x2="257.6" y2="257.6" stroke="#151515" stroke-width="1.3" stroke-linecap="butt"/>
<line x1="273.7" y1="251.3" x2="273.7" y2="245.8" stroke="#151515" stroke-width="1.3" stroke-linecap="butt"/>
<line x1="289.8" y1="251.3" x2="289.8" y2="257.6" stroke="#151515" stroke-width="1.3" stroke-linecap="butt"/>
<line x1="305.9" y1="251.3" x2="305.9" y2="245.8" stroke="#151515" stroke-width="1.3" stroke-linecap="butt"/>
<line x1="322" y1="251.3" x2="322" y2="257.6" stroke="#151515" stroke-width="1.3" stroke-linecap="butt"/>
<line x1="338.1" y1="251.3" x2="338.1" y2="245.8" stroke="#151515" stroke-width="1.3" stroke-linecap="butt"/>
<line x1="354.2" y1="251.3" x2="354.2" y2="257.6" stroke="#151515" stroke-width="1.3" stroke-linecap="butt"/>
<line x1="370.3" y1="251.3" x2="370.3" y2="245.8" stroke="#151515" stroke-width="1.3" stroke-linecap="butt"/>
<line x1="386.4" y1="251.3" x2="386.4" y2="257.6" stroke="#151515" stroke-width="1.3" stroke-linecap="butt"/>
<line x1="402.5" y1="251.3" x2="402.5" y2="245.8" stroke="#151515" stroke-width="1.3" stroke-linecap="butt"/>
<line x1="209.25" y1="248.7" x2="241.25" y2="248.7" stroke="#5da22e" stroke-width="1.7" stroke-linecap="butt"/>
<line x1="383" y1="249.8" x2="403" y2="249.8" stroke="#5da22e" stroke-width="1.7" stroke-linecap="butt"/>
<line x1="383" y1="252.7" x2="403" y2="252.7" stroke="#5aaae6" stroke-width="1.6" stroke-linecap="butt"/>
<path d="M383 243.3L387.7 254.8L378.3 254.8Z" fill="#8591c3" stroke="#5f6ca6" stroke-width="0.9" stroke-linejoin="miter"/>
<line x1="432.85" y1="251.3" x2="450" y2="251.3" stroke="#151515" stroke-width="1.3" stroke-linecap="butt"/>
<line x1="433.5" y1="251.3" x2="433.5" y2="245.8" stroke="#151515" stroke-width="1.3" stroke-linecap="butt"/>
<line x1="433.5" y1="249.3" x2="450" y2="249.3" stroke="#5da22e" stroke-width="1.7" stroke-linecap="butt"/>
<rect x="451.15" y="245.45" width="7.7" height="7.7" fill="#ffffff" stroke="#c0163e" stroke-width="1.6"/>
<line x1="79.35" y1="265.6" x2="162.4" y2="265.6" stroke="#151515" stroke-width="1.3" stroke-linecap="butt"/>
<line x1="80" y1="265.6" x2="80" y2="260.1" stroke="#151515" stroke-width="1.3" stroke-linecap="butt"/>
<line x1="97.31" y1="265.6" x2="97.31" y2="271.9" stroke="#151515" stroke-width="1.3" stroke-linecap="butt"/>
<line x1="113.42" y1="265.6" x2="113.42" y2="260.1" stroke="#151515" stroke-width="1.3" stroke-linecap="butt"/>
<line x1="129.53" y1="265.6" x2="129.53" y2="271.9" stroke="#151515" stroke-width="1.3" stroke-linecap="butt"/>
<line x1="145.64" y1="265.6" x2="145.64" y2="260.1" stroke="#151515" stroke-width="1.3" stroke-linecap="butt"/>
<line x1="161.75" y1="265.6" x2="161.75" y2="271.9" stroke="#151515" stroke-width="1.3" stroke-linecap="butt"/>
<path d="M111.75 257.3L116.45 269.1L107.05 269.1Z" fill="#8591c3" stroke="#5f6ca6" stroke-width="0.9" stroke-linejoin="miter"/>
<circle cx="118" cy="263.3" r="4.7" fill="#c9c9cc" stroke="#3e485e" stroke-width="1.3"/>
<polygon points="134.4,259.65 135.99,263.82 140.44,264.04 136.97,266.83 138.13,271.14 134.4,268.7 130.67,271.14 131.83,266.83 128.36,264.04 132.81,263.82" fill="#f1b656" stroke="#e38f18" stroke-width="1.15" stroke-linejoin="miter"/>
<rect x="121.65" y="261.75" width="7.9" height="7.9" fill="#d985bb" stroke="#d0177f" stroke-width="1.6"/>
<line x1="79.35" y1="279.5" x2="162.4" y2="279.5" stroke="#151515" stroke-width="1.3" stroke-linecap="butt"/>
<line x1="80" y1="279.5" x2="80" y2="274" stroke="#151515" stroke-width="1.3" stroke-linecap="butt"/>
<line x1="97.31" y1="279.5" x2="97.31" y2="285.8" stroke="#151515" stroke-width="1.3" stroke-linecap="butt"/>
<line x1="113.42" y1="279.5" x2="113.42" y2="274" stroke="#151515" stroke-width="1.3" stroke-linecap="butt"/>
<line x1="129.53" y1="279.5" x2="129.53" y2="285.8" stroke="#151515" stroke-width="1.3" stroke-linecap="butt"/>
<line x1="145.64" y1="279.5" x2="145.64" y2="274" stroke="#151515" stroke-width="1.3" stroke-linecap="butt"/>
<line x1="161.75" y1="279.5" x2="161.75" y2="285.8" stroke="#151515" stroke-width="1.3" stroke-linecap="butt"/>
<line x1="79.35" y1="292" x2="404.05" y2="292" stroke="#151515" stroke-width="1.3" stroke-linecap="butt"/>
<line x1="80" y1="292" x2="80" y2="286.5" stroke="#151515" stroke-width="1.3" stroke-linecap="butt"/>
<line x1="97.31" y1="292" x2="97.31" y2="298.3" stroke="#151515" stroke-width="1.3" stroke-linecap="butt"/>
<line x1="113.42" y1="292" x2="113.42" y2="286.5" stroke="#151515" stroke-width="1.3" stroke-linecap="butt"/>
<line x1="129.53" y1="292" x2="129.53" y2="298.3" stroke="#151515" stroke-width="1.3" stroke-linecap="butt"/>
<line x1="145.64" y1="292" x2="145.64" y2="286.5" stroke="#151515" stroke-width="1.3" stroke-linecap="butt"/>
<line x1="161.75" y1="292" x2="161.75" y2="298.3" stroke="#151515" stroke-width="1.3" stroke-linecap="butt"/>
<line x1="177.86" y1="292" x2="177.86" y2="286.5" stroke="#151515" stroke-width="1.3" stroke-linecap="butt"/>
<line x1="193.97" y1="292" x2="193.97" y2="298.3" stroke="#151515" stroke-width="1.3" stroke-linecap="butt"/>
<line x1="210.08" y1="292" x2="210.08" y2="286.5" stroke="#151515" stroke-width="1.3" stroke-linecap="butt"/>
<line x1="226.19" y1="292" x2="226.19" y2="298.3" stroke="#151515" stroke-width="1.3" stroke-linecap="butt"/>
<line x1="242.3" y1="292" x2="242.3" y2="286.5" stroke="#151515" stroke-width="1.3" stroke-linecap="butt"/>
<line x1="258.41" y1="292" x2="258.41" y2="298.3" stroke="#151515" stroke-width="1.3" stroke-linecap="butt"/>
<line x1="274.52" y1="292" x2="274.52" y2="286.5" stroke="#151515" stroke-width="1.3" stroke-linecap="butt"/>
<line x1="290.63" y1="292" x2="290.63" y2="298.3" stroke="#151515" stroke-width="1.3" stroke-linecap="butt"/>
<line x1="306.74" y1="292" x2="306.74" y2="286.5" stroke="#151515" stroke-width="1.3" stroke-linecap="butt"/>
<line x1="322.85" y1="292" x2="322.85" y2="298.3" stroke="#151515" stroke-width="1.3" stroke-linecap="butt"/>
<line x1="338.96" y1="292" x2="338.96" y2="286.5" stroke="#151515" stroke-width="1.3" stroke-linecap="butt"/>
<line x1="355.07" y1="292" x2="355.07" y2="298.3" stroke="#151515" stroke-width="1.3" stroke-linecap="butt"/>
<line x1="371.18" y1="292" x2="371.18" y2="286.5" stroke="#151515" stroke-width="1.3" stroke-linecap="butt"/>
<line x1="387.29" y1="292" x2="387.29" y2="298.3" stroke="#151515" stroke-width="1.3" stroke-linecap="butt"/>
<line x1="403.4" y1="292" x2="403.4" y2="286.5" stroke="#151515" stroke-width="1.3" stroke-linecap="butt"/>
<line x1="432.6" y1="292" x2="443" y2="292" stroke="#151515" stroke-width="1.3" stroke-linecap="butt"/>
<line x1="433.25" y1="292" x2="433.25" y2="286.5" stroke="#151515" stroke-width="1.3" stroke-linecap="butt"/>
<line x1="333.75" y1="289.3" x2="338.75" y2="289.3" stroke="#8f88cc" stroke-width="1.6" stroke-linecap="butt"/>
<path d="M321.75 286.3L326.45 297.5L317.05 297.5Z" fill="#8591c3" stroke="#5f6ca6" stroke-width="0.9" stroke-linejoin="miter"/>
<rect x="325.45" y="287.65" width="7.9" height="7.9" fill="#d985bb" stroke="#d0177f" stroke-width="1.6"/>
<line x1="79.35" y1="307.3" x2="339.61" y2="307.3" stroke="#151515" stroke-width="1.3" stroke-linecap="butt"/>
<line x1="80" y1="307.3" x2="80" y2="301.8" stroke="#151515" stroke-width="1.3" stroke-linecap="butt"/>
<line x1="97.31" y1="307.3" x2="97.31" y2="313.6" stroke="#151515" stroke-width="1.3" stroke-linecap="butt"/>
<line x1="113.42" y1="307.3" x2="113.42" y2="301.8" stroke="#151515" stroke-width="1.3" stroke-linecap="butt"/>
<line x1="129.53" y1="307.3" x2="129.53" y2="313.6" stroke="#151515" stroke-width="1.3" stroke-linecap="butt"/>
<line x1="145.64" y1="307.3" x2="145.64" y2="301.8" stroke="#151515" stroke-width="1.3" stroke-linecap="butt"/>
<line x1="161.75" y1="307.3" x2="161.75" y2="313.6" stroke="#151515" stroke-width="1.3" stroke-linecap="butt"/>
<line x1="177.86" y1="307.3" x2="177.86" y2="301.8" stroke="#151515" stroke-width="1.3" stroke-linecap="butt"/>
<line x1="193.97" y1="307.3" x2="193.97" y2="313.6" stroke="#151515" stroke-width="1.3" stroke-linecap="butt"/>
<line x1="210.08" y1="307.3" x2="210.08" y2="301.8" stroke="#151515" stroke-width="1.3" stroke-linecap="butt"/>
<line x1="226.19" y1="307.3" x2="226.19" y2="313.6" stroke="#151515" stroke-width="1.3" stroke-linecap="butt"/>
<line x1="242.3" y1="307.3" x2="242.3" y2="301.8" stroke="#151515" stroke-width="1.3" stroke-linecap="butt"/>
<line x1="258.41" y1="307.3" x2="258.41" y2="313.6" stroke="#151515" stroke-width="1.3" stroke-linecap="butt"/>
<line x1="274.52" y1="307.3" x2="274.52" y2="301.8" stroke="#151515" stroke-width="1.3" stroke-linecap="butt"/>
<line x1="290.63" y1="307.3" x2="290.63" y2="313.6" stroke="#151515" stroke-width="1.3" stroke-linecap="butt"/>
<line x1="306.74" y1="307.3" x2="306.74" y2="301.8" stroke="#151515" stroke-width="1.3" stroke-linecap="butt"/>
<line x1="322.85" y1="307.3" x2="322.85" y2="313.6" stroke="#151515" stroke-width="1.3" stroke-linecap="butt"/>
<line x1="338.96" y1="307.3" x2="338.96" y2="301.8" stroke="#151515" stroke-width="1.3" stroke-linecap="butt"/>
<line x1="296" y1="308" x2="305" y2="308" stroke="#8f88cc" stroke-width="1.6" stroke-linecap="butt"/>
<rect x="287.65" y="302.55" width="7.9" height="7.9" fill="#d985bb" stroke="#d0177f" stroke-width="1.6"/>
<line x1="79.35" y1="324.1" x2="404.05" y2="324.1" stroke="#151515" stroke-width="1.3" stroke-linecap="butt"/>
<line x1="80" y1="324.1" x2="80" y2="318.6" stroke="#151515" stroke-width="1.3" stroke-linecap="butt"/>
<line x1="97.31" y1="324.1" x2="97.31" y2="330.4" stroke="#151515" stroke-width="1.3" stroke-linecap="butt"/>
<line x1="113.42" y1="324.1" x2="113.42" y2="318.6" stroke="#151515" stroke-width="1.3" stroke-linecap="butt"/>
<line x1="129.53" y1="324.1" x2="129.53" y2="330.4" stroke="#151515" stroke-width="1.3" stroke-linecap="butt"/>
<line x1="145.64" y1="324.1" x2="145.64" y2="318.6" stroke="#151515" stroke-width="1.3" stroke-linecap="butt"/>
<line x1="161.75" y1="324.1" x2="161.75" y2="330.4" stroke="#151515" stroke-width="1.3" stroke-linecap="butt"/>
<line x1="177.86" y1="324.1" x2="177.86" y2="318.6" stroke="#151515" stroke-width="1.3" stroke-linecap="butt"/>
<line x1="193.97" y1="324.1" x2="193.97" y2="330.4" stroke="#151515" stroke-width="1.3" stroke-linecap="butt"/>
<line x1="210.08" y1="324.1" x2="210.08" y2="318.6" stroke="#151515" stroke-width="1.3" stroke-linecap="butt"/>
<line x1="226.19" y1="324.1" x2="226.19" y2="330.4" stroke="#151515" stroke-width="1.3" stroke-linecap="butt"/>
<line x1="242.3" y1="324.1" x2="242.3" y2="318.6" stroke="#151515" stroke-width="1.3" stroke-linecap="butt"/>
<line x1="258.41" y1="324.1" x2="258.41" y2="330.4" stroke="#151515" stroke-width="1.3" stroke-linecap="butt"/>
<line x1="274.52" y1="324.1" x2="274.52" y2="318.6" stroke="#151515" stroke-width="1.3" stroke-linecap="butt"/>
<line x1="290.63" y1="324.1" x2="290.63" y2="330.4" stroke="#151515" stroke-width="1.3" stroke-linecap="butt"/>
<line x1="306.74" y1="324.1" x2="306.74" y2="318.6" stroke="#151515" stroke-width="1.3" stroke-linecap="butt"/>
<line x1="322.85" y1="324.1" x2="322.85" y2="330.4" stroke="#151515" stroke-width="1.3" stroke-linecap="butt"/>
<line x1="338.96" y1="324.1" x2="338.96" y2="318.6" stroke="#151515" stroke-width="1.3" stroke-linecap="butt"/>
<line x1="355.07" y1="324.1" x2="355.07" y2="330.4" stroke="#151515" stroke-width="1.3" stroke-linecap="butt"/>
<line x1="371.18" y1="324.1" x2="371.18" y2="318.6" stroke="#151515" stroke-width="1.3" stroke-linecap="butt"/>
<line x1="387.29" y1="324.1" x2="387.29" y2="330.4" stroke="#151515" stroke-width="1.3" stroke-linecap="butt"/>
<line x1="403.4" y1="324.1" x2="403.4" y2="318.6" stroke="#151515" stroke-width="1.3" stroke-linecap="butt"/>
<line x1="432.6" y1="324.1" x2="500" y2="324.1" stroke="#151515" stroke-width="1.3" stroke-linecap="butt"/>
<line x1="433.25" y1="324.1" x2="433.25" y2="318.6" stroke="#151515" stroke-width="1.3" stroke-linecap="butt"/>
<line x1="468.4" y1="324.1" x2="468.4" y2="330.4" stroke="#151515" stroke-width="1.3" stroke-linecap="butt"/>
<line x1="499.35" y1="324.1" x2="499.35" y2="318.6" stroke="#151515" stroke-width="1.3" stroke-linecap="butt"/>
<line x1="79.35" y1="339.5" x2="355.72" y2="339.5" stroke="#151515" stroke-width="1.3" stroke-linecap="butt"/>
<line x1="80" y1="339.5" x2="80" y2="334" stroke="#151515" stroke-width="1.3" stroke-linecap="butt"/>
<line x1="97.31" y1="339.5" x2="97.31" y2="345.8" stroke="#151515" stroke-width="1.3" stroke-linecap="butt"/>
<line x1="113.42" y1="339.5" x2="113.42" y2="334" stroke="#151515" stroke-width="1.3" stroke-linecap="butt"/>
<line x1="129.53" y1="339.5" x2="129.53" y2="345.8" stroke="#151515" stroke-width="1.3" stroke-linecap="butt"/>
<line x1="145.64" y1="339.5" x2="145.64" y2="334" stroke="#151515" stroke-width="1.3" stroke-linecap="butt"/>
<line x1="161.75" y1="339.5" x2="161.75" y2="345.8" stroke="#151515" stroke-width="1.3" stroke-linecap="butt"/>
<line x1="177.86" y1="339.5" x2="177.86" y2="334" stroke="#151515" stroke-width="1.3" stroke-linecap="butt"/>
<line x1="193.97" y1="339.5" x2="193.97" y2="345.8" stroke="#151515" stroke-width="1.3" stroke-linecap="butt"/>
<line x1="210.08" y1="339.5" x2="210.08" y2="334" stroke="#151515" stroke-width="1.3" stroke-linecap="butt"/>
<line x1="226.19" y1="339.5" x2="226.19" y2="345.8" stroke="#151515" stroke-width="1.3" stroke-linecap="butt"/>
<line x1="242.3" y1="339.5" x2="242.3" y2="334" stroke="#151515" stroke-width="1.3" stroke-linecap="butt"/>
<line x1="258.41" y1="339.5" x2="258.41" y2="345.8" stroke="#151515" stroke-width="1.3" stroke-linecap="butt"/>
<line x1="274.52" y1="339.5" x2="274.52" y2="334" stroke="#151515" stroke-width="1.3" stroke-linecap="butt"/>
<line x1="290.63" y1="339.5" x2="290.63" y2="345.8" stroke="#151515" stroke-width="1.3" stroke-linecap="butt"/>
<line x1="306.74" y1="339.5" x2="306.74" y2="334" stroke="#151515" stroke-width="1.3" stroke-linecap="butt"/>
<line x1="322.85" y1="339.5" x2="322.85" y2="345.8" stroke="#151515" stroke-width="1.3" stroke-linecap="butt"/>
<line x1="338.96" y1="339.5" x2="338.96" y2="334" stroke="#151515" stroke-width="1.3" stroke-linecap="butt"/>
<line x1="355.07" y1="339.5" x2="355.07" y2="345.8" stroke="#151515" stroke-width="1.3" stroke-linecap="butt"/>
<line x1="81.65" y1="354.8" x2="325.25" y2="354.8" stroke="#151515" stroke-width="1.3" stroke-linecap="butt"/>
<line x1="82.3" y1="354.8" x2="82.3" y2="349.3" stroke="#151515" stroke-width="1.3" stroke-linecap="butt"/>
<line x1="98.92" y1="354.8" x2="98.92" y2="361.1" stroke="#151515" stroke-width="1.3" stroke-linecap="butt"/>
<line x1="115.04" y1="354.8" x2="115.04" y2="349.3" stroke="#151515" stroke-width="1.3" stroke-linecap="butt"/>
<line x1="131.16" y1="354.8" x2="131.16" y2="361.1" stroke="#151515" stroke-width="1.3" stroke-linecap="butt"/>
<line x1="147.28" y1="354.8" x2="147.28" y2="349.3" stroke="#151515" stroke-width="1.3" stroke-linecap="butt"/>
<line x1="163.4" y1="354.8" x2="163.4" y2="361.1" stroke="#151515" stroke-width="1.3" stroke-linecap="butt"/>
<line x1="179.52" y1="354.8" x2="179.52" y2="349.3" stroke="#151515" stroke-width="1.3" stroke-linecap="butt"/>
<line x1="195.64" y1="354.8" x2="195.64" y2="361.1" stroke="#151515" stroke-width="1.3" stroke-linecap="butt"/>
<line x1="211.76" y1="354.8" x2="211.76" y2="349.3" stroke="#151515" stroke-width="1.3" stroke-linecap="butt"/>
<line x1="227.88" y1="354.8" x2="227.88" y2="361.1" stroke="#151515" stroke-width="1.3" stroke-linecap="butt"/>
<line x1="244" y1="354.8" x2="244" y2="349.3" stroke="#151515" stroke-width="1.3" stroke-linecap="butt"/>
<line x1="260.12" y1="354.8" x2="260.12" y2="361.1" stroke="#151515" stroke-width="1.3" stroke-linecap="butt"/>
<line x1="276.24" y1="354.8" x2="276.24" y2="349.3" stroke="#151515" stroke-width="1.3" stroke-linecap="butt"/>
<line x1="292.36" y1="354.8" x2="292.36" y2="361.1" stroke="#151515" stroke-width="1.3" stroke-linecap="butt"/>
<line x1="308.48" y1="354.8" x2="308.48" y2="349.3" stroke="#151515" stroke-width="1.3" stroke-linecap="butt"/>
<line x1="324.6" y1="354.8" x2="324.6" y2="361.1" stroke="#151515" stroke-width="1.3" stroke-linecap="butt"/>
<line x1="195" y1="355.5" x2="324.5" y2="355.5" stroke="#5aaae6" stroke-width="1.5" stroke-linecap="butt"/>
<line x1="260.75" y1="354" x2="292.5" y2="354" stroke="#5da22e" stroke-width="1.7" stroke-linecap="butt"/>
<path d="M82 346.3L86.7 358L77.3 358Z" fill="#8591c3" stroke="#5f6ca6" stroke-width="0.9" stroke-linejoin="miter"/>
<line x1="79.95" y1="371.9" x2="162.5" y2="371.9" stroke="#151515" stroke-width="1.3" stroke-linecap="butt"/>
<line x1="80.6" y1="371.9" x2="80.6" y2="366.4" stroke="#151515" stroke-width="1.3" stroke-linecap="butt"/>
<line x1="97.33" y1="371.9" x2="97.33" y2="378.2" stroke="#151515" stroke-width="1.3" stroke-linecap="butt"/>
<line x1="113.46" y1="371.9" x2="113.46" y2="366.4" stroke="#151515" stroke-width="1.3" stroke-linecap="butt"/>
<line x1="129.59" y1="371.9" x2="129.59" y2="378.2" stroke="#151515" stroke-width="1.3" stroke-linecap="butt"/>
<line x1="145.72" y1="371.9" x2="145.72" y2="366.4" stroke="#151515" stroke-width="1.3" stroke-linecap="butt"/>
<line x1="161.85" y1="371.9" x2="161.85" y2="378.2" stroke="#151515" stroke-width="1.3" stroke-linecap="butt"/>
<line x1="80.6" y1="371.3" x2="97" y2="371.3" stroke="#5da22e" stroke-width="1.7" stroke-linecap="butt"/>
<path d="M128.75 363.2L133.45 375.2L124.05 375.2Z" fill="#8591c3" stroke="#5f6ca6" stroke-width="0.9" stroke-linejoin="miter"/>
<rect x="132.3" y="367.65" width="7.9" height="7.9" fill="#7b5a94" stroke="#4f2a70" stroke-width="1.3"/>
<polygon points="148,365.6 149.59,369.77 154.04,369.99 150.57,372.78 151.73,377.09 148,374.65 144.27,377.09 145.43,372.78 141.96,369.99 146.41,369.77" fill="#f1b656" stroke="#e38f18" stroke-width="1.15" stroke-linejoin="miter"/>
<line x1="79.35" y1="385.3" x2="404.05" y2="385.3" stroke="#151515" stroke-width="1.3" stroke-linecap="butt"/>
<line x1="80" y1="385.3" x2="80" y2="379.8" stroke="#151515" stroke-width="1.3" stroke-linecap="butt"/>
<line x1="97.31" y1="385.3" x2="97.31" y2="391.6" stroke="#151515" stroke-width="1.3" stroke-linecap="butt"/>
<line x1="113.42" y1="385.3" x2="113.42" y2="379.8" stroke="#151515" stroke-width="1.3" stroke-linecap="butt"/>
<line x1="129.53" y1="385.3" x2="129.53" y2="391.6" stroke="#151515" stroke-width="1.3" stroke-linecap="butt"/>
<line x1="145.64" y1="385.3" x2="145.64" y2="379.8" stroke="#151515" stroke-width="1.3" stroke-linecap="butt"/>
<line x1="161.75" y1="385.3" x2="161.75" y2="391.6" stroke="#151515" stroke-width="1.3" stroke-linecap="butt"/>
<line x1="177.86" y1="385.3" x2="177.86" y2="379.8" stroke="#151515" stroke-width="1.3" stroke-linecap="butt"/>
<line x1="193.97" y1="385.3" x2="193.97" y2="391.6" stroke="#151515" stroke-width="1.3" stroke-linecap="butt"/>
<line x1="210.08" y1="385.3" x2="210.08" y2="379.8" stroke="#151515" stroke-width="1.3" stroke-linecap="butt"/>
<line x1="226.19" y1="385.3" x2="226.19" y2="391.6" stroke="#151515" stroke-width="1.3" stroke-linecap="butt"/>
<line x1="242.3" y1="385.3" x2="242.3" y2="379.8" stroke="#151515" stroke-width="1.3" stroke-linecap="butt"/>
<line x1="258.41" y1="385.3" x2="258.41" y2="391.6" stroke="#151515" stroke-width="1.3" stroke-linecap="butt"/>
<line x1="274.52" y1="385.3" x2="274.52" y2="379.8" stroke="#151515" stroke-width="1.3" stroke-linecap="butt"/>
<line x1="290.63" y1="385.3" x2="290.63" y2="391.6" stroke="#151515" stroke-width="1.3" stroke-linecap="butt"/>
<line x1="306.74" y1="385.3" x2="306.74" y2="379.8" stroke="#151515" stroke-width="1.3" stroke-linecap="butt"/>
<line x1="322.85" y1="385.3" x2="322.85" y2="391.6" stroke="#151515" stroke-width="1.3" stroke-linecap="butt"/>
<line x1="338.96" y1="385.3" x2="338.96" y2="379.8" stroke="#151515" stroke-width="1.3" stroke-linecap="butt"/>
<line x1="355.07" y1="385.3" x2="355.07" y2="391.6" stroke="#151515" stroke-width="1.3" stroke-linecap="butt"/>
<line x1="371.18" y1="385.3" x2="371.18" y2="379.8" stroke="#151515" stroke-width="1.3" stroke-linecap="butt"/>
<line x1="387.29" y1="385.3" x2="387.29" y2="391.6" stroke="#151515" stroke-width="1.3" stroke-linecap="butt"/>
<line x1="403.4" y1="385.3" x2="403.4" y2="379.8" stroke="#151515" stroke-width="1.3" stroke-linecap="butt"/>
<line x1="432.6" y1="385.3" x2="443" y2="385.3" stroke="#151515" stroke-width="1.3" stroke-linecap="butt"/>
<line x1="433.25" y1="385.3" x2="433.25" y2="379.8" stroke="#151515" stroke-width="1.3" stroke-linecap="butt"/>
<line x1="146.25" y1="383" x2="258.75" y2="383" stroke="#5da22e" stroke-width="1.7" stroke-linecap="butt"/>
<line x1="146.25" y1="385.6" x2="258.75" y2="385.6" stroke="#5aaae6" stroke-width="1.6" stroke-linecap="butt"/>
<line x1="314.5" y1="386.7" x2="322.5" y2="386.7" stroke="#8f88cc" stroke-width="1.6" stroke-linecap="butt"/>
<rect x="306.15" y="380.15" width="7.9" height="7.9" fill="#d985bb" stroke="#d0177f" stroke-width="1.6"/>
<path d="M354.25 379.5L358.95 390.7L349.55 390.7Z" fill="#8591c3" stroke="#5f6ca6" stroke-width="0.9" stroke-linejoin="miter"/>
<line x1="355" y1="384.3" x2="359" y2="384.3" stroke="#c0163e" stroke-width="1.5" stroke-linecap="butt"/>
<polygon points="372.4,378.75 373.99,382.92 378.44,383.14 374.97,385.93 376.13,390.24 372.4,387.8 368.67,390.24 369.83,385.93 366.36,383.14 370.81,382.92" fill="#f1b656" stroke="#e38f18" stroke-width="1.15" stroke-linejoin="miter"/>
<rect x="359.15" y="380.25" width="7.9" height="7.9" fill="#d985bb" stroke="#d0177f" stroke-width="1.6"/>
<line x1="79.35" y1="399" x2="226.84" y2="399" stroke="#151515" stroke-width="1.3" stroke-linecap="butt"/>
<line x1="80" y1="399" x2="80" y2="393.5" stroke="#151515" stroke-width="1.3" stroke-linecap="butt"/>
<line x1="97.31" y1="399" x2="97.31" y2="405.3" stroke="#151515" stroke-width="1.3" stroke-linecap="butt"/>
<line x1="113.42" y1="399" x2="113.42" y2="393.5" stroke="#151515" stroke-width="1.3" stroke-linecap="butt"/>
<line x1="129.53" y1="399" x2="129.53" y2="405.3" stroke="#151515" stroke-width="1.3" stroke-linecap="butt"/>
<line x1="145.64" y1="399" x2="145.64" y2="393.5" stroke="#151515" stroke-width="1.3" stroke-linecap="butt"/>
<line x1="161.75" y1="399" x2="161.75" y2="405.3" stroke="#151515" stroke-width="1.3" stroke-linecap="butt"/>
<line x1="177.86" y1="399" x2="177.86" y2="393.5" stroke="#151515" stroke-width="1.3" stroke-linecap="butt"/>
<line x1="193.97" y1="399" x2="193.97" y2="405.3" stroke="#151515" stroke-width="1.3" stroke-linecap="butt"/>
<line x1="210.08" y1="399" x2="210.08" y2="393.5" stroke="#151515" stroke-width="1.3" stroke-linecap="butt"/>
<line x1="226.19" y1="399" x2="226.19" y2="405.3" stroke="#151515" stroke-width="1.3" stroke-linecap="butt"/>
<line x1="130" y1="396.6" x2="161.25" y2="396.6" stroke="#5aaae6" stroke-width="1.6" stroke-linecap="butt"/>
<line x1="138" y1="399.2" x2="161.25" y2="399.2" stroke="#5da22e" stroke-width="1.7" stroke-linecap="butt"/>
<line x1="162" y1="399.2" x2="178" y2="399.2" stroke="#c0163e" stroke-width="1.6" stroke-linecap="butt"/>
<path d="M161.25 393L165.95 404.5L156.55 404.5Z" fill="#8591c3" stroke="#5f6ca6" stroke-width="0.9" stroke-linejoin="miter"/>
<rect x="166.15" y="392.95" width="7.9" height="7.9" fill="#7b5a94" stroke="#4f2a70" stroke-width="1.3"/>
<polygon points="182.5,391.95 184.09,396.12 188.54,396.34 185.07,399.13 186.23,403.44 182.5,401 178.77,403.44 179.93,399.13 176.46,396.34 180.91,396.12" fill="#f1b656" stroke="#e38f18" stroke-width="1.15" stroke-linejoin="miter"/>
<line x1="79.35" y1="412.7" x2="226.84" y2="412.7" stroke="#151515" stroke-width="1.3" stroke-linecap="butt"/>
<line x1="80" y1="412.7" x2="80" y2="407.2" stroke="#151515" stroke-width="1.3" stroke-linecap="butt"/>
<line x1="97.31" y1="412.7" x2="97.31" y2="419" stroke="#151515" stroke-width="1.3" stroke-linecap="butt"/>
<line x1="113.42" y1="412.7" x2="113.42" y2="407.2" stroke="#151515" stroke-width="1.3" stroke-linecap="butt"/>
<line x1="129.53" y1="412.7" x2="129.53" y2="419" stroke="#151515" stroke-width="1.3" stroke-linecap="butt"/>
<line x1="145.64" y1="412.7" x2="145.64" y2="407.2" stroke="#151515" stroke-width="1.3" stroke-linecap="butt"/>
<line x1="161.75" y1="412.7" x2="161.75" y2="419" stroke="#151515" stroke-width="1.3" stroke-linecap="butt"/>
<line x1="177.86" y1="412.7" x2="177.86" y2="407.2" stroke="#151515" stroke-width="1.3" stroke-linecap="butt"/>
<line x1="193.97" y1="412.7" x2="193.97" y2="419" stroke="#151515" stroke-width="1.3" stroke-linecap="butt"/>
<line x1="210.08" y1="412.7" x2="210.08" y2="407.2" stroke="#151515" stroke-width="1.3" stroke-linecap="butt"/>
<line x1="226.19" y1="412.7" x2="226.19" y2="419" stroke="#151515" stroke-width="1.3" stroke-linecap="butt"/>
<line x1="160" y1="410" x2="188.75" y2="410" stroke="#5da22e" stroke-width="1.7" stroke-linecap="butt"/>
<line x1="160" y1="413" x2="188.75" y2="413" stroke="#5aaae6" stroke-width="1.6" stroke-linecap="butt"/>
<path d="M160 407L164.7 418L155.3 418Z" fill="#4e5e9a" stroke="#3a4985" stroke-width="0.9" stroke-linejoin="miter"/>
<circle cx="192.5" cy="410" r="4.7" fill="#c9c9cc" stroke="#3e485e" stroke-width="1.3"/>
<line x1="79.35" y1="427.4" x2="210.73" y2="427.4" stroke="#151515" stroke-width="1.3" stroke-linecap="butt"/>
<line x1="80" y1="427.4" x2="80" y2="421.9" stroke="#151515" stroke-width="1.3" stroke-linecap="butt"/>
<line x1="97.31" y1="427.4" x2="97.31" y2="433.7" stroke="#151515" stroke-width="1.3" stroke-linecap="butt"/>
<line x1="113.42" y1="427.4" x2="113.42" y2="421.9" stroke="#151515" stroke-width="1.3" stroke-linecap="butt"/>
<line x1="129.53" y1="427.4" x2="129.53" y2="433.7" stroke="#151515" stroke-width="1.3" stroke-linecap="butt"/>
<line x1="145.64" y1="427.4" x2="145.64" y2="421.9" stroke="#151515" stroke-width="1.3" stroke-linecap="butt"/>
<line x1="161.75" y1="427.4" x2="161.75" y2="433.7" stroke="#151515" stroke-width="1.3" stroke-linecap="butt"/>
<line x1="177.86" y1="427.4" x2="177.86" y2="421.9" stroke="#151515" stroke-width="1.3" stroke-linecap="butt"/>
<line x1="193.97" y1="427.4" x2="193.97" y2="433.7" stroke="#151515" stroke-width="1.3" stroke-linecap="butt"/>
<line x1="210.08" y1="427.4" x2="210.08" y2="421.9" stroke="#151515" stroke-width="1.3" stroke-linecap="butt"/>
<line x1="160" y1="424.5" x2="190" y2="424.5" stroke="#5da22e" stroke-width="1.7" stroke-linecap="butt"/>
<line x1="160" y1="427.5" x2="190" y2="427.5" stroke="#5aaae6" stroke-width="1.6" stroke-linecap="butt"/>
<path d="M160 420L164.7 431.2L155.3 431.2Z" fill="#4e5e9a" stroke="#3a4985" stroke-width="0.9" stroke-linejoin="miter"/>
<circle cx="194.25" cy="425.75" r="4.7" fill="#c9c9cc" stroke="#3e485e" stroke-width="1.3"/>
<line x1="79.35" y1="441" x2="162.4" y2="441" stroke="#151515" stroke-width="1.3" stroke-linecap="butt"/>
<line x1="80" y1="441" x2="80" y2="435.5" stroke="#151515" stroke-width="1.3" stroke-linecap="butt"/>
<line x1="97.31" y1="441" x2="97.31" y2="447.3" stroke="#151515" stroke-width="1.3" stroke-linecap="butt"/>
<line x1="113.42" y1="441" x2="113.42" y2="435.5" stroke="#151515" stroke-width="1.3" stroke-linecap="butt"/>
<line x1="129.53" y1="441" x2="129.53" y2="447.3" stroke="#151515" stroke-width="1.3" stroke-linecap="butt"/>
<line x1="145.64" y1="441" x2="145.64" y2="435.5" stroke="#151515" stroke-width="1.3" stroke-linecap="butt"/>
<line x1="161.75" y1="441" x2="161.75" y2="447.3" stroke="#151515" stroke-width="1.3" stroke-linecap="butt"/>
<rect x="129.15" y="437.05" width="7.9" height="7.9" fill="#d985bb" stroke="#d0177f" stroke-width="1.6"/>
<polygon points="146.25,434.4 147.84,438.57 152.29,438.79 148.82,441.58 149.98,445.89 146.25,443.45 142.52,445.89 143.68,441.58 140.21,438.79 144.66,438.57" fill="#f1b656" stroke="#e38f18" stroke-width="1.15" stroke-linejoin="miter"/>
<line x1="79.35" y1="455.2" x2="242.95" y2="455.2" stroke="#151515" stroke-width="1.3" stroke-linecap="butt"/>
<line x1="80" y1="455.2" x2="80" y2="449.7" stroke="#151515" stroke-width="1.3" stroke-linecap="butt"/>
<line x1="97.31" y1="455.2" x2="97.31" y2="461.5" stroke="#151515" stroke-width="1.3" stroke-linecap="butt"/>
<line x1="113.42" y1="455.2" x2="113.42" y2="449.7" stroke="#151515" stroke-width="1.3" stroke-linecap="butt"/>
<line x1="129.53" y1="455.2" x2="129.53" y2="461.5" stroke="#151515" stroke-width="1.3" stroke-linecap="butt"/>
<line x1="145.64" y1="455.2" x2="145.64" y2="449.7" stroke="#151515" stroke-width="1.3" stroke-linecap="butt"/>
<line x1="161.75" y1="455.2" x2="161.75" y2="461.5" stroke="#151515" stroke-width="1.3" stroke-linecap="butt"/>
<line x1="177.86" y1="455.2" x2="177.86" y2="449.7" stroke="#151515" stroke-width="1.3" stroke-linecap="butt"/>
<line x1="193.97" y1="455.2" x2="193.97" y2="461.5" stroke="#151515" stroke-width="1.3" stroke-linecap="butt"/>
<line x1="210.08" y1="455.2" x2="210.08" y2="449.7" stroke="#151515" stroke-width="1.3" stroke-linecap="butt"/>
<line x1="226.19" y1="455.2" x2="226.19" y2="461.5" stroke="#151515" stroke-width="1.3" stroke-linecap="butt"/>
<line x1="242.3" y1="455.2" x2="242.3" y2="449.7" stroke="#151515" stroke-width="1.3" stroke-linecap="butt"/>
<line x1="131.25" y1="455" x2="175" y2="455" stroke="#5da22e" stroke-width="1.7" stroke-linecap="butt"/>
<path d="M177.8 446.5L182.5 458.9L173.1 458.9Z" fill="#8591c3" stroke="#5f6ca6" stroke-width="0.9" stroke-linejoin="miter"/>
<rect x="184.65" y="450.75" width="7.9" height="7.9" fill="#7b5a94" stroke="#4f2a70" stroke-width="1.3"/>
<rect x="193.65" y="450.75" width="7.9" height="7.9" fill="#7b5a94" stroke="#4f2a70" stroke-width="1.3"/>
<rect x="204.45" y="450.75" width="7.9" height="7.9" fill="#7b5a94" stroke="#4f2a70" stroke-width="1.3"/>
<rect x="215.65" y="450.75" width="7.9" height="7.9" fill="#7b5a94" stroke="#4f2a70" stroke-width="1.3"/>
<rect x="230.85" y="450.75" width="7.9" height="7.9" fill="#d985bb" stroke="#d0177f" stroke-width="1.6"/>
<rect x="243.15" y="450.85" width="7.7" height="7.7" fill="#ffffff" stroke="#c0163e" stroke-width="1.6"/>
<line x1="78.55" y1="470.7" x2="275.17" y2="470.7" stroke="#151515" stroke-width="1.3" stroke-linecap="butt"/>
<line x1="79.2" y1="470.7" x2="79.2" y2="465.2" stroke="#151515" stroke-width="1.3" stroke-linecap="butt"/>
<line x1="97.31" y1="470.7" x2="97.31" y2="477" stroke="#151515" stroke-width="1.3" stroke-linecap="butt"/>
<line x1="113.42" y1="470.7" x2="113.42" y2="465.2" stroke="#151515" stroke-width="1.3" stroke-linecap="butt"/>
<line x1="129.53" y1="470.7" x2="129.53" y2="477" stroke="#151515" stroke-width="1.3" stroke-linecap="butt"/>
<line x1="145.64" y1="470.7" x2="145.64" y2="465.2" stroke="#151515" stroke-width="1.3" stroke-linecap="butt"/>
<line x1="161.75" y1="470.7" x2="161.75" y2="477" stroke="#151515" stroke-width="1.3" stroke-linecap="butt"/>
<line x1="177.86" y1="470.7" x2="177.86" y2="465.2" stroke="#151515" stroke-width="1.3" stroke-linecap="butt"/>
<line x1="193.97" y1="470.7" x2="193.97" y2="477" stroke="#151515" stroke-width="1.3" stroke-linecap="butt"/>
<line x1="210.08" y1="470.7" x2="210.08" y2="465.2" stroke="#151515" stroke-width="1.3" stroke-linecap="butt"/>
<line x1="226.19" y1="470.7" x2="226.19" y2="477" stroke="#151515" stroke-width="1.3" stroke-linecap="butt"/>
<line x1="242.3" y1="470.7" x2="242.3" y2="465.2" stroke="#151515" stroke-width="1.3" stroke-linecap="butt"/>
<line x1="258.41" y1="470.7" x2="258.41" y2="477" stroke="#151515" stroke-width="1.3" stroke-linecap="butt"/>
<line x1="274.52" y1="470.7" x2="274.52" y2="465.2" stroke="#151515" stroke-width="1.3" stroke-linecap="butt"/>
<line x1="175" y1="468.5" x2="195" y2="468.5" stroke="#8f88cc" stroke-width="1.6" stroke-linecap="butt"/>
<path d="M161.75 464.7L166.45 476.4L157.05 476.4Z" fill="#8591c3" stroke="#5f6ca6" stroke-width="0.9" stroke-linejoin="miter"/>
<rect x="166.65" y="466.65" width="7.9" height="7.9" fill="#d985bb" stroke="#d0177f" stroke-width="1.6"/>
<polygon points="242,463.85 243.59,468.02 248.04,468.24 244.57,471.03 245.73,475.34 242,472.9 238.27,475.34 239.43,471.03 235.96,468.24 240.41,468.02" fill="#f1b656" stroke="#e38f18" stroke-width="1.15" stroke-linejoin="miter"/>
<line x1="78.55" y1="484.6" x2="242.95" y2="484.6" stroke="#151515" stroke-width="1.3" stroke-linecap="butt"/>
<line x1="79.2" y1="484.6" x2="79.2" y2="479.1" stroke="#151515" stroke-width="1.3" stroke-linecap="butt"/>
<line x1="97.31" y1="484.6" x2="97.31" y2="490.9" stroke="#151515" stroke-width="1.3" stroke-linecap="butt"/>
<line x1="113.42" y1="484.6" x2="113.42" y2="479.1" stroke="#151515" stroke-width="1.3" stroke-linecap="butt"/>
<line x1="129.53" y1="484.6" x2="129.53" y2="490.9" stroke="#151515" stroke-width="1.3" stroke-linecap="butt"/>
<line x1="145.64" y1="484.6" x2="145.64" y2="479.1" stroke="#151515" stroke-width="1.3" stroke-linecap="butt"/>
<line x1="161.75" y1="484.6" x2="161.75" y2="490.9" stroke="#151515" stroke-width="1.3" stroke-linecap="butt"/>
<line x1="177.86" y1="484.6" x2="177.86" y2="479.1" stroke="#151515" stroke-width="1.3" stroke-linecap="butt"/>
<line x1="193.97" y1="484.6" x2="193.97" y2="490.9" stroke="#151515" stroke-width="1.3" stroke-linecap="butt"/>
<line x1="210.08" y1="484.6" x2="210.08" y2="479.1" stroke="#151515" stroke-width="1.3" stroke-linecap="butt"/>
<line x1="226.19" y1="484.6" x2="226.19" y2="490.9" stroke="#151515" stroke-width="1.3" stroke-linecap="butt"/>
<line x1="242.3" y1="484.6" x2="242.3" y2="479.1" stroke="#151515" stroke-width="1.3" stroke-linecap="butt"/>
<path d="M128.75 478.7L133.45 490.7L124.05 490.7Z" fill="#8591c3" stroke="#5f6ca6" stroke-width="0.9" stroke-linejoin="miter"/>
<rect x="136.65" y="482.15" width="7.9" height="7.9" fill="#d985bb" stroke="#d0177f" stroke-width="1.6"/>
<polygon points="192.7,480.3 196.42,482.45 196.42,486.75 192.7,488.9 188.98,486.75 188.98,482.45" fill="none" stroke="#2b4b8c" stroke-width="1.2"/>
<rect x="200.45" y="481" width="7.9" height="7.9" fill="#7b5a94" stroke="#4f2a70" stroke-width="1.3"/>
<polygon points="215,476.35 216.59,480.52 221.04,480.74 217.57,483.53 218.73,487.84 215,485.4 211.27,487.84 212.43,483.53 208.96,480.74 213.41,480.52" fill="#f1b656" stroke="#e38f18" stroke-width="1.15" stroke-linejoin="miter"/>
<line x1="76.95" y1="512.1" x2="321.35" y2="512.1" stroke="#151515" stroke-width="1.3" stroke-linecap="butt"/>
<line x1="77.6" y1="512.1" x2="77.6" y2="506.6" stroke="#151515" stroke-width="1.3" stroke-linecap="butt"/>
<line x1="94.6" y1="512.1" x2="94.6" y2="518.4" stroke="#151515" stroke-width="1.3" stroke-linecap="butt"/>
<line x1="110.75" y1="512.1" x2="110.75" y2="506.6" stroke="#151515" stroke-width="1.3" stroke-linecap="butt"/>
<line x1="126.9" y1="512.1" x2="126.9" y2="518.4" stroke="#151515" stroke-width="1.3" stroke-linecap="butt"/>
<line x1="143.05" y1="512.1" x2="143.05" y2="506.6" stroke="#151515" stroke-width="1.3" stroke-linecap="butt"/>
<line x1="159.2" y1="512.1" x2="159.2" y2="518.4" stroke="#151515" stroke-width="1.3" stroke-linecap="butt"/>
<line x1="175.35" y1="512.1" x2="175.35" y2="506.6" stroke="#151515" stroke-width="1.3" stroke-linecap="butt"/>
<line x1="191.5" y1="512.1" x2="191.5" y2="518.4" stroke="#151515" stroke-width="1.3" stroke-linecap="butt"/>
<line x1="207.65" y1="512.1" x2="207.65" y2="506.6" stroke="#151515" stroke-width="1.3" stroke-linecap="butt"/>
<line x1="223.8" y1="512.1" x2="223.8" y2="518.4" stroke="#151515" stroke-width="1.3" stroke-linecap="butt"/>
<line x1="239.95" y1="512.1" x2="239.95" y2="506.6" stroke="#151515" stroke-width="1.3" stroke-linecap="butt"/>
<line x1="256.1" y1="512.1" x2="256.1" y2="518.4" stroke="#151515" stroke-width="1.3" stroke-linecap="butt"/>
<line x1="272.25" y1="512.1" x2="272.25" y2="506.6" stroke="#151515" stroke-width="1.3" stroke-linecap="butt"/>
<line x1="288.4" y1="512.1" x2="288.4" y2="518.4" stroke="#151515" stroke-width="1.3" stroke-linecap="butt"/>
<line x1="304.55" y1="512.1" x2="304.55" y2="506.6" stroke="#151515" stroke-width="1.3" stroke-linecap="butt"/>
<line x1="320.7" y1="512.1" x2="320.7" y2="518.4" stroke="#151515" stroke-width="1.3" stroke-linecap="butt"/>
<line x1="139.5" y1="511" x2="157.5" y2="511" stroke="#8f88cc" stroke-width="1.6" stroke-linecap="butt"/>
<path d="M127 503.5L131.7 515.5L122.3 515.5Z" fill="#8591c3" stroke="#5f6ca6" stroke-width="0.9" stroke-linejoin="miter"/>
<rect x="131.05" y="506.95" width="7.9" height="7.9" fill="#d985bb" stroke="#d0177f" stroke-width="1.6"/>
<rect x="157.75" y="505.95" width="7.9" height="7.9" fill="#7b5a94" stroke="#4f2a70" stroke-width="1.3"/>
<rect x="169.8" y="505.15" width="7.9" height="7.9" fill="#7b5a94" stroke="#4f2a70" stroke-width="1.3"/>
<polygon points="257,503.65 258.59,507.82 263.04,508.04 259.57,510.83 260.73,515.14 257,512.7 253.27,515.14 254.43,510.83 250.96,508.04 255.41,507.82" fill="#f1b656" stroke="#e38f18" stroke-width="1.15" stroke-linejoin="miter"/>
<line x1="76.95" y1="525.8" x2="402.1" y2="525.8" stroke="#151515" stroke-width="1.3" stroke-linecap="butt"/>
<line x1="77.6" y1="525.8" x2="77.6" y2="520.3" stroke="#151515" stroke-width="1.3" stroke-linecap="butt"/>
<line x1="94.6" y1="525.8" x2="94.6" y2="532.1" stroke="#151515" stroke-width="1.3" stroke-linecap="butt"/>
<line x1="110.75" y1="525.8" x2="110.75" y2="520.3" stroke="#151515" stroke-width="1.3" stroke-linecap="butt"/>
<line x1="126.9" y1="525.8" x2="126.9" y2="532.1" stroke="#151515" stroke-width="1.3" stroke-linecap="butt"/>
<line x1="143.05" y1="525.8" x2="143.05" y2="520.3" stroke="#151515" stroke-width="1.3" stroke-linecap="butt"/>
<line x1="159.2" y1="525.8" x2="159.2" y2="532.1" stroke="#151515" stroke-width="1.3" stroke-linecap="butt"/>
<line x1="175.35" y1="525.8" x2="175.35" y2="520.3" stroke="#151515" stroke-width="1.3" stroke-linecap="butt"/>
<line x1="191.5" y1="525.8" x2="191.5" y2="532.1" stroke="#151515" stroke-width="1.3" stroke-linecap="butt"/>
<line x1="207.65" y1="525.8" x2="207.65" y2="520.3" stroke="#151515" stroke-width="1.3" stroke-linecap="butt"/>
<line x1="223.8" y1="525.8" x2="223.8" y2="532.1" stroke="#151515" stroke-width="1.3" stroke-linecap="butt"/>
<line x1="239.95" y1="525.8" x2="239.95" y2="520.3" stroke="#151515" stroke-width="1.3" stroke-linecap="butt"/>
<line x1="256.1" y1="525.8" x2="256.1" y2="532.1" stroke="#151515" stroke-width="1.3" stroke-linecap="butt"/>
<line x1="272.25" y1="525.8" x2="272.25" y2="520.3" stroke="#151515" stroke-width="1.3" stroke-linecap="butt"/>
<line x1="288.4" y1="525.8" x2="288.4" y2="532.1" stroke="#151515" stroke-width="1.3" stroke-linecap="butt"/>
<line x1="304.55" y1="525.8" x2="304.55" y2="520.3" stroke="#151515" stroke-width="1.3" stroke-linecap="butt"/>
<line x1="320.7" y1="525.8" x2="320.7" y2="532.1" stroke="#151515" stroke-width="1.3" stroke-linecap="butt"/>
<line x1="336.85" y1="525.8" x2="336.85" y2="520.3" stroke="#151515" stroke-width="1.3" stroke-linecap="butt"/>
<line x1="353" y1="525.8" x2="353" y2="532.1" stroke="#151515" stroke-width="1.3" stroke-linecap="butt"/>
<line x1="369.15" y1="525.8" x2="369.15" y2="520.3" stroke="#151515" stroke-width="1.3" stroke-linecap="butt"/>
<line x1="385.3" y1="525.8" x2="385.3" y2="532.1" stroke="#151515" stroke-width="1.3" stroke-linecap="butt"/>
<line x1="401.45" y1="525.8" x2="401.45" y2="520.3" stroke="#151515" stroke-width="1.3" stroke-linecap="butt"/>
<line x1="433.1" y1="525" x2="475" y2="525" stroke="#151515" stroke-width="1.3" stroke-linecap="butt"/>
<line x1="433.75" y1="525" x2="433.75" y2="519.5" stroke="#151515" stroke-width="1.3" stroke-linecap="butt"/>
<line x1="469" y1="525" x2="469" y2="531.3" stroke="#151515" stroke-width="1.3" stroke-linecap="butt"/>
<line x1="433.75" y1="523.7" x2="475" y2="523.7" stroke="#5aaae6" stroke-width="1.5" stroke-linecap="butt"/>
<line x1="223.75" y1="524.7" x2="401.75" y2="524.7" stroke="#5aaae6" stroke-width="1.5" stroke-linecap="butt"/>
<path d="M347.5 517.8L352.2 529.5L342.8 529.5Z" fill="#8591c3" stroke="#5f6ca6" stroke-width="0.9" stroke-linejoin="miter"/>
<rect x="353.95" y="521.25" width="7.9" height="7.9" fill="#d985bb" stroke="#d0177f" stroke-width="1.6"/>
<line x1="77.6" y1="540.3" x2="402.35" y2="540.3" stroke="#151515" stroke-width="1.3" stroke-linecap="butt"/>
<line x1="95.42" y1="540.3" x2="95.42" y2="546.6" stroke="#151515" stroke-width="1.3" stroke-linecap="butt"/>
<line x1="111.54" y1="540.3" x2="111.54" y2="534.8" stroke="#151515" stroke-width="1.3" stroke-linecap="butt"/>
<line x1="127.66" y1="540.3" x2="127.66" y2="546.6" stroke="#151515" stroke-width="1.3" stroke-linecap="butt"/>
<line x1="143.78" y1="540.3" x2="143.78" y2="534.8" stroke="#151515" stroke-width="1.3" stroke-linecap="butt"/>
<line x1="159.9" y1="540.3" x2="159.9" y2="546.6" stroke="#151515" stroke-width="1.3" stroke-linecap="butt"/>
<line x1="176.02" y1="540.3" x2="176.02" y2="534.8" stroke="#151515" stroke-width="1.3" stroke-linecap="butt"/>
<line x1="192.14" y1="540.3" x2="192.14" y2="546.6" stroke="#151515" stroke-width="1.3" stroke-linecap="butt"/>
<line x1="208.26" y1="540.3" x2="208.26" y2="534.8" stroke="#151515" stroke-width="1.3" stroke-linecap="butt"/>
<line x1="224.38" y1="540.3" x2="224.38" y2="546.6" stroke="#151515" stroke-width="1.3" stroke-linecap="butt"/>
<line x1="240.5" y1="540.3" x2="240.5" y2="534.8" stroke="#151515" stroke-width="1.3" stroke-linecap="butt"/>
<line x1="256.62" y1="540.3" x2="256.62" y2="546.6" stroke="#151515" stroke-width="1.3" stroke-linecap="butt"/>
<line x1="272.74" y1="540.3" x2="272.74" y2="534.8" stroke="#151515" stroke-width="1.3" stroke-linecap="butt"/>
<line x1="288.86" y1="540.3" x2="288.86" y2="546.6" stroke="#151515" stroke-width="1.3" stroke-linecap="butt"/>
<line x1="304.98" y1="540.3" x2="304.98" y2="534.8" stroke="#151515" stroke-width="1.3" stroke-linecap="butt"/>
<line x1="321.1" y1="540.3" x2="321.1" y2="546.6" stroke="#151515" stroke-width="1.3" stroke-linecap="butt"/>
<line x1="337.22" y1="540.3" x2="337.22" y2="534.8" stroke="#151515" stroke-width="1.3" stroke-linecap="butt"/>
<line x1="353.34" y1="540.3" x2="353.34" y2="546.6" stroke="#151515" stroke-width="1.3" stroke-linecap="butt"/>
<line x1="369.46" y1="540.3" x2="369.46" y2="534.8" stroke="#151515" stroke-width="1.3" stroke-linecap="butt"/>
<line x1="385.58" y1="540.3" x2="385.58" y2="546.6" stroke="#151515" stroke-width="1.3" stroke-linecap="butt"/>
<line x1="401.7" y1="540.3" x2="401.7" y2="534.8" stroke="#151515" stroke-width="1.3" stroke-linecap="butt"/>
<path d="M79.5 531.6L84.2 542.8L74.8 542.8Z" fill="#8591c3" stroke="#5f6ca6" stroke-width="0.9" stroke-linejoin="miter"/>
<line x1="78.25" y1="554.4" x2="402.45" y2="554.4" stroke="#151515" stroke-width="1.3" stroke-linecap="butt"/>
<line x1="78.9" y1="554.4" x2="78.9" y2="548.9" stroke="#151515" stroke-width="1.3" stroke-linecap="butt"/>
<line x1="95.52" y1="554.4" x2="95.52" y2="560.7" stroke="#151515" stroke-width="1.3" stroke-linecap="butt"/>
<line x1="111.64" y1="554.4" x2="111.64" y2="548.9" stroke="#151515" stroke-width="1.3" stroke-linecap="butt"/>
<line x1="127.76" y1="554.4" x2="127.76" y2="560.7" stroke="#151515" stroke-width="1.3" stroke-linecap="butt"/>
<line x1="143.88" y1="554.4" x2="143.88" y2="548.9" stroke="#151515" stroke-width="1.3" stroke-linecap="butt"/>
<line x1="160" y1="554.4" x2="160" y2="560.7" stroke="#151515" stroke-width="1.3" stroke-linecap="butt"/>
<line x1="176.12" y1="554.4" x2="176.12" y2="548.9" stroke="#151515" stroke-width="1.3" stroke-linecap="butt"/>
<line x1="192.24" y1="554.4" x2="192.24" y2="560.7" stroke="#151515" stroke-width="1.3" stroke-linecap="butt"/>
<line x1="208.36" y1="554.4" x2="208.36" y2="548.9" stroke="#151515" stroke-width="1.3" stroke-linecap="butt"/>
<line x1="224.48" y1="554.4" x2="224.48" y2="560.7" stroke="#151515" stroke-width="1.3" stroke-linecap="butt"/>
<line x1="240.6" y1="554.4" x2="240.6" y2="548.9" stroke="#151515" stroke-width="1.3" stroke-linecap="butt"/>
<line x1="256.72" y1="554.4" x2="256.72" y2="560.7" stroke="#151515" stroke-width="1.3" stroke-linecap="butt"/>
<line x1="272.84" y1="554.4" x2="272.84" y2="548.9" stroke="#151515" stroke-width="1.3" stroke-linecap="butt"/>
<line x1="288.96" y1="554.4" x2="288.96" y2="560.7" stroke="#151515" stroke-width="1.3" stroke-linecap="butt"/>
<line x1="305.08" y1="554.4" x2="305.08" y2="548.9" stroke="#151515" stroke-width="1.3" stroke-linecap="butt"/>
<line x1="321.2" y1="554.4" x2="321.2" y2="560.7" stroke="#151515" stroke-width="1.3" stroke-linecap="butt"/>
<line x1="337.32" y1="554.4" x2="337.32" y2="548.9" stroke="#151515" stroke-width="1.3" stroke-linecap="butt"/>
<line x1="353.44" y1="554.4" x2="353.44" y2="560.7" stroke="#151515" stroke-width="1.3" stroke-linecap="butt"/>
<line x1="369.56" y1="554.4" x2="369.56" y2="548.9" stroke="#151515" stroke-width="1.3" stroke-linecap="butt"/>
<line x1="385.68" y1="554.4" x2="385.68" y2="560.7" stroke="#151515" stroke-width="1.3" stroke-linecap="butt"/>
<line x1="401.8" y1="554.4" x2="401.8" y2="548.9" stroke="#151515" stroke-width="1.3" stroke-linecap="butt"/>
<line x1="96.2" y1="552.2" x2="113" y2="552.2" stroke="#5da22e" stroke-width="1.7" stroke-linecap="butt"/>
<line x1="96.2" y1="554.4" x2="113" y2="554.4" stroke="#5aaae6" stroke-width="1.6" stroke-linecap="butt"/>
<line x1="123.2" y1="553.2" x2="152.9" y2="553.2" stroke="#8f88cc" stroke-width="1.6" stroke-linecap="butt"/>
<rect x="114.75" y="549.85" width="7.9" height="7.9" fill="#d985bb" stroke="#d0177f" stroke-width="1.6"/>
<polygon points="135.3,547.9 139.02,550.05 139.02,554.35 135.3,556.5 131.58,554.35 131.58,550.05" fill="none" stroke="#2b4b8c" stroke-width="1.2"/>
<rect x="339.15" y="550.55" width="7.9" height="7.9" fill="#7b5a94" stroke="#4f2a70" stroke-width="1.3"/>
<polygon points="385.5,546.55 387.09,550.72 391.54,550.94 388.07,553.73 389.23,558.04 385.5,555.6 381.77,558.04 382.93,553.73 379.46,550.94 383.91,550.72" fill="#f1b656" stroke="#e38f18" stroke-width="1.15" stroke-linejoin="miter"/>
<line x1="76.95" y1="567.5" x2="256.75" y2="567.5" stroke="#151515" stroke-width="1.3" stroke-linecap="butt"/>
<line x1="77.6" y1="567.5" x2="77.6" y2="562" stroke="#151515" stroke-width="1.3" stroke-linecap="butt"/>
<line x1="94.6" y1="567.5" x2="94.6" y2="573.8" stroke="#151515" stroke-width="1.3" stroke-linecap="butt"/>
<line x1="110.75" y1="567.5" x2="110.75" y2="562" stroke="#151515" stroke-width="1.3" stroke-linecap="butt"/>
<line x1="126.9" y1="567.5" x2="126.9" y2="573.8" stroke="#151515" stroke-width="1.3" stroke-linecap="butt"/>
<line x1="143.05" y1="567.5" x2="143.05" y2="562" stroke="#151515" stroke-width="1.3" stroke-linecap="butt"/>
<line x1="159.2" y1="567.5" x2="159.2" y2="573.8" stroke="#151515" stroke-width="1.3" stroke-linecap="butt"/>
<line x1="175.35" y1="567.5" x2="175.35" y2="562" stroke="#151515" stroke-width="1.3" stroke-linecap="butt"/>
<line x1="191.5" y1="567.5" x2="191.5" y2="573.8" stroke="#151515" stroke-width="1.3" stroke-linecap="butt"/>
<line x1="207.65" y1="567.5" x2="207.65" y2="562" stroke="#151515" stroke-width="1.3" stroke-linecap="butt"/>
<line x1="223.8" y1="567.5" x2="223.8" y2="573.8" stroke="#151515" stroke-width="1.3" stroke-linecap="butt"/>
<line x1="239.95" y1="567.5" x2="239.95" y2="562" stroke="#151515" stroke-width="1.3" stroke-linecap="butt"/>
<line x1="256.1" y1="567.5" x2="256.1" y2="573.8" stroke="#151515" stroke-width="1.3" stroke-linecap="butt"/>
<line x1="142.6" y1="569" x2="158.6" y2="569" stroke="#8f88cc" stroke-width="1.6" stroke-linecap="butt"/>
<path d="M124.3 559.3L129 571L119.6 571Z" fill="#8591c3" stroke="#5f6ca6" stroke-width="0.9" stroke-linejoin="miter"/>
<rect x="129.75" y="562.35" width="7.9" height="7.9" fill="#d985bb" stroke="#d0177f" stroke-width="1.6"/>
<polygon points="142.6,561.5 146.32,563.65 146.32,567.95 142.6,570.1 138.88,567.95 138.88,563.65" fill="none" stroke="#2b4b8c" stroke-width="1.2"/>
<polygon points="224.25,559.9 225.84,564.07 230.29,564.29 226.82,567.08 227.98,571.39 224.25,568.95 220.52,571.39 221.68,567.08 218.21,564.29 222.66,564.07" fill="#f1b656" stroke="#e38f18" stroke-width="1.15" stroke-linejoin="miter"/>
<line x1="77.25" y1="581.4" x2="208.3" y2="581.4" stroke="#151515" stroke-width="1.3" stroke-linecap="butt"/>
<line x1="77.9" y1="581.4" x2="77.9" y2="575.9" stroke="#151515" stroke-width="1.3" stroke-linecap="butt"/>
<line x1="94.6" y1="581.4" x2="94.6" y2="587.7" stroke="#151515" stroke-width="1.3" stroke-linecap="butt"/>
<line x1="110.75" y1="581.4" x2="110.75" y2="575.9" stroke="#151515" stroke-width="1.3" stroke-linecap="butt"/>
<line x1="126.9" y1="581.4" x2="126.9" y2="587.7" stroke="#151515" stroke-width="1.3" stroke-linecap="butt"/>
<line x1="143.05" y1="581.4" x2="143.05" y2="575.9" stroke="#151515" stroke-width="1.3" stroke-linecap="butt"/>
<line x1="159.2" y1="581.4" x2="159.2" y2="587.7" stroke="#151515" stroke-width="1.3" stroke-linecap="butt"/>
<line x1="175.35" y1="581.4" x2="175.35" y2="575.9" stroke="#151515" stroke-width="1.3" stroke-linecap="butt"/>
<line x1="191.5" y1="581.4" x2="191.5" y2="587.7" stroke="#151515" stroke-width="1.3" stroke-linecap="butt"/>
<line x1="207.65" y1="581.4" x2="207.65" y2="575.9" stroke="#151515" stroke-width="1.3" stroke-linecap="butt"/>
<line x1="94.6" y1="582.8" x2="176" y2="582.8" stroke="#5aaae6" stroke-width="1.6" stroke-linecap="butt"/>
<path d="M94.6 575.1L99.3 587.1L89.9 587.1Z" fill="#8591c3" stroke="#5f6ca6" stroke-width="0.9" stroke-linejoin="miter"/>
<rect x="176.05" y="577.55" width="7.9" height="7.9" fill="#7b5a94" stroke="#4f2a70" stroke-width="1.3"/>
<line x1="184.3" y1="581.8" x2="186.5" y2="581.8" stroke="#c0163e" stroke-width="1.5" stroke-linecap="butt"/>
<polygon points="191.25,574.9 192.84,579.07 197.29,579.29 193.82,582.08 194.98,586.39 191.25,583.95 187.52,586.39 188.68,582.08 185.21,579.29 189.66,579.07" fill="#f1b656" stroke="#e38f18" stroke-width="1.15" stroke-linejoin="miter"/>
<line x1="77.95" y1="595.6" x2="337.5" y2="595.6" stroke="#151515" stroke-width="1.3" stroke-linecap="butt"/>
<line x1="78.6" y1="595.6" x2="78.6" y2="590.1" stroke="#151515" stroke-width="1.3" stroke-linecap="butt"/>
<line x1="94.6" y1="595.6" x2="94.6" y2="601.9" stroke="#151515" stroke-width="1.3" stroke-linecap="butt"/>
<line x1="110.75" y1="595.6" x2="110.75" y2="590.1" stroke="#151515" stroke-width="1.3" stroke-linecap="butt"/>
<line x1="126.9" y1="595.6" x2="126.9" y2="601.9" stroke="#151515" stroke-width="1.3" stroke-linecap="butt"/>
<line x1="143.05" y1="595.6" x2="143.05" y2="590.1" stroke="#151515" stroke-width="1.3" stroke-linecap="butt"/>
<line x1="159.2" y1="595.6" x2="159.2" y2="601.9" stroke="#151515" stroke-width="1.3" stroke-linecap="butt"/>
<line x1="175.35" y1="595.6" x2="175.35" y2="590.1" stroke="#151515" stroke-width="1.3" stroke-linecap="butt"/>
<line x1="191.5" y1="595.6" x2="191.5" y2="601.9" stroke="#151515" stroke-width="1.3" stroke-linecap="butt"/>
<line x1="207.65" y1="595.6" x2="207.65" y2="590.1" stroke="#151515" stroke-width="1.3" stroke-linecap="butt"/>
<line x1="223.8" y1="595.6" x2="223.8" y2="601.9" stroke="#151515" stroke-width="1.3" stroke-linecap="butt"/>
<line x1="239.95" y1="595.6" x2="239.95" y2="590.1" stroke="#151515" stroke-width="1.3" stroke-linecap="butt"/>
<line x1="256.1" y1="595.6" x2="256.1" y2="601.9" stroke="#151515" stroke-width="1.3" stroke-linecap="butt"/>
<line x1="272.25" y1="595.6" x2="272.25" y2="590.1" stroke="#151515" stroke-width="1.3" stroke-linecap="butt"/>
<line x1="288.4" y1="595.6" x2="288.4" y2="601.9" stroke="#151515" stroke-width="1.3" stroke-linecap="butt"/>
<line x1="304.55" y1="595.6" x2="304.55" y2="590.1" stroke="#151515" stroke-width="1.3" stroke-linecap="butt"/>
<line x1="320.7" y1="595.6" x2="320.7" y2="601.9" stroke="#151515" stroke-width="1.3" stroke-linecap="butt"/>
<line x1="336.85" y1="595.6" x2="336.85" y2="590.1" stroke="#151515" stroke-width="1.3" stroke-linecap="butt"/>
<line x1="96.5" y1="596.2" x2="208.75" y2="596.2" stroke="#5aaae6" stroke-width="1.6" stroke-linecap="butt"/>
<path d="M111.2 588.2L115.9 600L106.5 600Z" fill="#8591c3" stroke="#5f6ca6" stroke-width="0.9" stroke-linejoin="miter"/>
<line x1="256.25" y1="595.8" x2="276.25" y2="595.8" stroke="#8f88cc" stroke-width="1.6" stroke-linecap="butt"/>
<line x1="296" y1="592" x2="302.5" y2="592" stroke="#8f88cc" stroke-width="1.6" stroke-linecap="butt"/>
<rect x="277.15" y="591.05" width="7.9" height="7.9" fill="#d985bb" stroke="#d0177f" stroke-width="1.6"/>
<polygon points="291.4,589.9 295.12,592.05 295.12,596.35 291.4,598.5 287.68,596.35 287.68,592.05" fill="none" stroke="#2b4b8c" stroke-width="1.2"/>
<polygon points="306.8,588.65 308.39,592.82 312.84,593.04 309.37,595.83 310.53,600.14 306.8,597.7 303.07,600.14 304.23,595.83 300.76,593.04 305.21,592.82" fill="#f1b656" stroke="#e38f18" stroke-width="1.15" stroke-linejoin="miter"/>
<line x1="77.95" y1="610.8" x2="270" y2="610.8" stroke="#151515" stroke-width="1.3" stroke-linecap="butt"/>
<line x1="78.6" y1="610.8" x2="78.6" y2="605.3" stroke="#151515" stroke-width="1.3" stroke-linecap="butt"/>
<line x1="94.6" y1="610.8" x2="94.6" y2="617.1" stroke="#151515" stroke-width="1.3" stroke-linecap="butt"/>
<line x1="110.75" y1="610.8" x2="110.75" y2="605.3" stroke="#151515" stroke-width="1.3" stroke-linecap="butt"/>
<line x1="126.9" y1="610.8" x2="126.9" y2="617.1" stroke="#151515" stroke-width="1.3" stroke-linecap="butt"/>
<line x1="143.05" y1="610.8" x2="143.05" y2="605.3" stroke="#151515" stroke-width="1.3" stroke-linecap="butt"/>
<line x1="159.2" y1="610.8" x2="159.2" y2="617.1" stroke="#151515" stroke-width="1.3" stroke-linecap="butt"/>
<line x1="175.35" y1="610.8" x2="175.35" y2="605.3" stroke="#151515" stroke-width="1.3" stroke-linecap="butt"/>
<line x1="191.5" y1="610.8" x2="191.5" y2="617.1" stroke="#151515" stroke-width="1.3" stroke-linecap="butt"/>
<line x1="207.65" y1="610.8" x2="207.65" y2="605.3" stroke="#151515" stroke-width="1.3" stroke-linecap="butt"/>
<line x1="223.8" y1="610.8" x2="223.8" y2="617.1" stroke="#151515" stroke-width="1.3" stroke-linecap="butt"/>
<line x1="239.95" y1="610.8" x2="239.95" y2="605.3" stroke="#151515" stroke-width="1.3" stroke-linecap="butt"/>
<line x1="256.1" y1="610.8" x2="256.1" y2="617.1" stroke="#151515" stroke-width="1.3" stroke-linecap="butt"/>
<line x1="255.9" y1="611.6" x2="270" y2="611.6" stroke="#8f88cc" stroke-width="1.6" stroke-linecap="butt"/>
<path d="M241.9 601.1L246.6 613.2L237.2 613.2Z" fill="#8591c3" stroke="#5f6ca6" stroke-width="0.9" stroke-linejoin="miter"/>
<rect x="247.55" y="604.65" width="7.9" height="7.9" fill="#d985bb" stroke="#d0177f" stroke-width="1.6"/>
<polygon points="274,602.25 275.59,606.42 280.04,606.64 276.57,609.43 277.73,613.74 274,611.3 270.27,613.74 271.43,609.43 267.96,606.64 272.41,606.42" fill="#f1b656" stroke="#e38f18" stroke-width="1.15" stroke-linejoin="miter"/>
<rect x="282.4" y="607.05" width="7.7" height="7.7" fill="#ffffff" stroke="#c0163e" stroke-width="1.6"/>
<line x1="76.95" y1="625" x2="402.1" y2="625" stroke="#151515" stroke-width="1.3" stroke-linecap="butt"/>
<line x1="77.6" y1="625" x2="77.6" y2="619.5" stroke="#151515" stroke-width="1.3" stroke-linecap="butt"/>
<line x1="94.6" y1="625" x2="94.6" y2="631.3" stroke="#151515" stroke-width="1.3" stroke-linecap="butt"/>
<line x1="110.75" y1="625" x2="110.75" y2="619.5" stroke="#151515" stroke-width="1.3" stroke-linecap="butt"/>
<line x1="126.9" y1="625" x2="126.9" y2="631.3" stroke="#151515" stroke-width="1.3" stroke-linecap="butt"/>
<line x1="143.05" y1="625" x2="143.05" y2="619.5" stroke="#151515" stroke-width="1.3" stroke-linecap="butt"/>
<line x1="159.2" y1="625" x2="159.2" y2="631.3" stroke="#151515" stroke-width="1.3" stroke-linecap="butt"/>
<line x1="175.35" y1="625" x2="175.35" y2="619.5" stroke="#151515" stroke-width="1.3" stroke-linecap="butt"/>
<line x1="191.5" y1="625" x2="191.5" y2="631.3" stroke="#151515" stroke-width="1.3" stroke-linecap="butt"/>
<line x1="207.65" y1="625" x2="207.65" y2="619.5" stroke="#151515" stroke-width="1.3" stroke-linecap="butt"/>
<line x1="223.8" y1="625" x2="223.8" y2="631.3" stroke="#151515" stroke-width="1.3" stroke-linecap="butt"/>
<line x1="239.95" y1="625" x2="239.95" y2="619.5" stroke="#151515" stroke-width="1.3" stroke-linecap="butt"/>
<line x1="256.1" y1="625" x2="256.1" y2="631.3" stroke="#151515" stroke-width="1.3" stroke-linecap="butt"/>
<line x1="272.25" y1="625" x2="272.25" y2="619.5" stroke="#151515" stroke-width="1.3" stroke-linecap="butt"/>
<line x1="288.4" y1="625" x2="288.4" y2="631.3" stroke="#151515" stroke-width="1.3" stroke-linecap="butt"/>
<line x1="304.55" y1="625" x2="304.55" y2="619.5" stroke="#151515" stroke-width="1.3" stroke-linecap="butt"/>
<line x1="320.7" y1="625" x2="320.7" y2="631.3" stroke="#151515" stroke-width="1.3" stroke-linecap="butt"/>
<line x1="336.85" y1="625" x2="336.85" y2="619.5" stroke="#151515" stroke-width="1.3" stroke-linecap="butt"/>
<line x1="353" y1="625" x2="353" y2="631.3" stroke="#151515" stroke-width="1.3" stroke-linecap="butt"/>
<line x1="369.15" y1="625" x2="369.15" y2="619.5" stroke="#151515" stroke-width="1.3" stroke-linecap="butt"/>
<line x1="385.3" y1="625" x2="385.3" y2="631.3" stroke="#151515" stroke-width="1.3" stroke-linecap="butt"/>
<line x1="401.45" y1="625" x2="401.45" y2="619.5" stroke="#151515" stroke-width="1.3" stroke-linecap="butt"/>
<line x1="112" y1="624.8" x2="224" y2="624.8" stroke="#5da22e" stroke-width="1.7" stroke-linecap="butt"/>
<line x1="368.75" y1="625.2" x2="401.6" y2="625.2" stroke="#5aaae6" stroke-width="1.5" stroke-linecap="butt"/>
<path d="M226.4 619.5L231.1 631.4L221.7 631.4Z" fill="#8591c3" stroke="#5f6ca6" stroke-width="0.9" stroke-linejoin="miter"/>
<line x1="432" y1="625" x2="432" y2="619.5" stroke="#151515" stroke-width="1.3" stroke-linecap="butt"/>
<line x1="431.5" y1="625" x2="448" y2="625" stroke="#5aaae6" stroke-width="1.6" stroke-linecap="butt"/>
<line x1="77.65" y1="640" x2="208.3" y2="640" stroke="#151515" stroke-width="1.3" stroke-linecap="butt"/>
<line x1="78.3" y1="640" x2="78.3" y2="634.5" stroke="#151515" stroke-width="1.3" stroke-linecap="butt"/>
<line x1="94.6" y1="640" x2="94.6" y2="646.3" stroke="#151515" stroke-width="1.3" stroke-linecap="butt"/>
<line x1="110.75" y1="640" x2="110.75" y2="634.5" stroke="#151515" stroke-width="1.3" stroke-linecap="butt"/>
<line x1="126.9" y1="640" x2="126.9" y2="646.3" stroke="#151515" stroke-width="1.3" stroke-linecap="butt"/>
<line x1="143.05" y1="640" x2="143.05" y2="634.5" stroke="#151515" stroke-width="1.3" stroke-linecap="butt"/>
<line x1="159.2" y1="640" x2="159.2" y2="646.3" stroke="#151515" stroke-width="1.3" stroke-linecap="butt"/>
<line x1="175.35" y1="640" x2="175.35" y2="634.5" stroke="#151515" stroke-width="1.3" stroke-linecap="butt"/>
<line x1="191.5" y1="640" x2="191.5" y2="646.3" stroke="#151515" stroke-width="1.3" stroke-linecap="butt"/>
<line x1="207.65" y1="640" x2="207.65" y2="634.5" stroke="#151515" stroke-width="1.3" stroke-linecap="butt"/>
<line x1="95" y1="640" x2="158" y2="640" stroke="#5da22e" stroke-width="1.7" stroke-linecap="butt"/>
<line x1="173.75" y1="639.6" x2="188.75" y2="639.6" stroke="#c8a060" stroke-width="1.6" stroke-linecap="butt"/>
<path d="M159.25 633.8L163.95 645L154.55 645Z" fill="#8591c3" stroke="#5f6ca6" stroke-width="0.9" stroke-linejoin="miter"/>
<rect x="165.45" y="636.45" width="7.9" height="7.9" fill="#7b5a94" stroke="#4f2a70" stroke-width="1.3"/>
<polygon points="193.25,634.15 194.84,638.32 199.29,638.54 195.82,641.33 196.98,645.64 193.25,643.2 189.52,645.64 190.68,641.33 187.21,638.54 191.66,638.32" fill="#f1b656" stroke="#e38f18" stroke-width="1.15" stroke-linejoin="miter"/>
<line x1="76.95" y1="653.5" x2="167.45" y2="653.5" stroke="#151515" stroke-width="1.3" stroke-linecap="butt"/>
<line x1="77.6" y1="653.5" x2="77.6" y2="648" stroke="#151515" stroke-width="1.3" stroke-linecap="butt"/>
<line x1="94.6" y1="653.5" x2="94.6" y2="659.8" stroke="#151515" stroke-width="1.3" stroke-linecap="butt"/>
<line x1="110.75" y1="653.5" x2="110.75" y2="648" stroke="#151515" stroke-width="1.3" stroke-linecap="butt"/>
<line x1="126.9" y1="653.5" x2="126.9" y2="659.8" stroke="#151515" stroke-width="1.3" stroke-linecap="butt"/>
<line x1="143.05" y1="653.5" x2="143.05" y2="648" stroke="#151515" stroke-width="1.3" stroke-linecap="butt"/>
<line x1="159.2" y1="653.5" x2="159.2" y2="659.8" stroke="#151515" stroke-width="1.3" stroke-linecap="butt"/>
<line x1="77.6" y1="653.2" x2="107.2" y2="653.2" stroke="#5da22e" stroke-width="1.7" stroke-linecap="butt"/>
<line x1="123.5" y1="654.8" x2="145.6" y2="654.8" stroke="#8f88cc" stroke-width="1.6" stroke-linecap="butt"/>
<path d="M110.9 644.4L115.6 656.2L106.2 656.2Z" fill="#8591c3" stroke="#5f6ca6" stroke-width="0.9" stroke-linejoin="miter"/>
<rect x="114.95" y="649.45" width="7.9" height="7.9" fill="#d985bb" stroke="#d0177f" stroke-width="1.6"/>
<polygon points="133.3,648.9 137.02,651.05 137.02,655.35 133.3,657.5 129.58,655.35 129.58,651.05" fill="none" stroke="#2b4b8c" stroke-width="1.2"/>
<polygon points="150.8,647.05 152.39,651.22 156.84,651.44 153.37,654.23 154.53,658.54 150.8,656.1 147.07,658.54 148.23,654.23 144.76,651.44 149.21,651.22" fill="#f1b656" stroke="#e38f18" stroke-width="1.15" stroke-linejoin="miter"/>
<line x1="76.95" y1="670" x2="137.25" y2="670" stroke="#151515" stroke-width="1.3" stroke-linecap="butt"/>
<line x1="77.6" y1="670" x2="77.6" y2="664.5" stroke="#151515" stroke-width="1.3" stroke-linecap="butt"/>
<line x1="94.6" y1="670" x2="94.6" y2="676.3" stroke="#151515" stroke-width="1.3" stroke-linecap="butt"/>
<line x1="110.75" y1="670" x2="110.75" y2="664.5" stroke="#151515" stroke-width="1.3" stroke-linecap="butt"/>
<line x1="126.9" y1="670" x2="126.9" y2="676.3" stroke="#151515" stroke-width="1.3" stroke-linecap="butt"/>
<line x1="108.5" y1="672.5" x2="131.7" y2="672.5" stroke="#8f88cc" stroke-width="1.6" stroke-linecap="butt"/>
<path d="M94.1 664.3L98.8 675.8L89.4 675.8Z" fill="#8591c3" stroke="#5f6ca6" stroke-width="0.9" stroke-linejoin="miter"/>
<rect x="99.95" y="666.7" width="7.9" height="7.9" fill="#d985bb" stroke="#d0177f" stroke-width="1.6"/>
<polygon points="117,666.1 120.72,668.25 120.72,672.55 117,674.7 113.28,672.55 113.28,668.25" fill="none" stroke="#2b4b8c" stroke-width="1.2"/>
<line x1="76.95" y1="681.8" x2="402.1" y2="681.8" stroke="#151515" stroke-width="1.3" stroke-linecap="butt"/>
<line x1="77.6" y1="681.8" x2="77.6" y2="676.3" stroke="#151515" stroke-width="1.3" stroke-linecap="butt"/>
<line x1="94.6" y1="681.8" x2="94.6" y2="688.1" stroke="#151515" stroke-width="1.3" stroke-linecap="butt"/>
<line x1="110.75" y1="681.8" x2="110.75" y2="676.3" stroke="#151515" stroke-width="1.3" stroke-linecap="butt"/>
<line x1="126.9" y1="681.8" x2="126.9" y2="688.1" stroke="#151515" stroke-width="1.3" stroke-linecap="butt"/>
<line x1="143.05" y1="681.8" x2="143.05" y2="676.3" stroke="#151515" stroke-width="1.3" stroke-linecap="butt"/>
<line x1="159.2" y1="681.8" x2="159.2" y2="688.1" stroke="#151515" stroke-width="1.3" stroke-linecap="butt"/>
<line x1="175.35" y1="681.8" x2="175.35" y2="676.3" stroke="#151515" stroke-width="1.3" stroke-linecap="butt"/>
<line x1="191.5" y1="681.8" x2="191.5" y2="688.1" stroke="#151515" stroke-width="1.3" stroke-linecap="butt"/>
<line x1="207.65" y1="681.8" x2="207.65" y2="676.3" stroke="#151515" stroke-width="1.3" stroke-linecap="butt"/>
<line x1="223.8" y1="681.8" x2="223.8" y2="688.1" stroke="#151515" stroke-width="1.3" stroke-linecap="butt"/>
<line x1="239.95" y1="681.8" x2="239.95" y2="676.3" stroke="#151515" stroke-width="1.3" stroke-linecap="butt"/>
<line x1="256.1" y1="681.8" x2="256.1" y2="688.1" stroke="#151515" stroke-width="1.3" stroke-linecap="butt"/>
<line x1="272.25" y1="681.8" x2="272.25" y2="676.3" stroke="#151515" stroke-width="1.3" stroke-linecap="butt"/>
<line x1="288.4" y1="681.8" x2="288.4" y2="688.1" stroke="#151515" stroke-width="1.3" stroke-linecap="butt"/>
<line x1="304.55" y1="681.8" x2="304.55" y2="676.3" stroke="#151515" stroke-width="1.3" stroke-linecap="butt"/>
<line x1="320.7" y1="681.8" x2="320.7" y2="688.1" stroke="#151515" stroke-width="1.3" stroke-linecap="butt"/>
<line x1="336.85" y1="681.8" x2="336.85" y2="676.3" stroke="#151515" stroke-width="1.3" stroke-linecap="butt"/>
<line x1="353" y1="681.8" x2="353" y2="688.1" stroke="#151515" stroke-width="1.3" stroke-linecap="butt"/>
<line x1="369.15" y1="681.8" x2="369.15" y2="676.3" stroke="#151515" stroke-width="1.3" stroke-linecap="butt"/>
<line x1="385.3" y1="681.8" x2="385.3" y2="688.1" stroke="#151515" stroke-width="1.3" stroke-linecap="butt"/>
<line x1="401.45" y1="681.8" x2="401.45" y2="676.3" stroke="#151515" stroke-width="1.3" stroke-linecap="butt"/>
<line x1="433.05" y1="681.8" x2="501" y2="681.8" stroke="#151515" stroke-width="1.3" stroke-linecap="butt"/>
<line x1="433.7" y1="681.8" x2="433.7" y2="676.3" stroke="#151515" stroke-width="1.3" stroke-linecap="butt"/>
<line x1="469.2" y1="681.8" x2="469.2" y2="688.1" stroke="#151515" stroke-width="1.3" stroke-linecap="butt"/>
<line x1="500.35" y1="681.8" x2="500.35" y2="676.3" stroke="#151515" stroke-width="1.3" stroke-linecap="butt"/>
<path d="M240.5 674.4L245.2 685.6L235.8 685.6Z" fill="#8591c3" stroke="#5f6ca6" stroke-width="0.9" stroke-linejoin="miter"/>
<line x1="76.95" y1="695.5" x2="192.15" y2="695.5" stroke="#151515" stroke-width="1.3" stroke-linecap="butt"/>
<line x1="77.6" y1="695.5" x2="77.6" y2="690" stroke="#151515" stroke-width="1.3" stroke-linecap="butt"/>
<line x1="94.6" y1="695.5" x2="94.6" y2="701.8" stroke="#151515" stroke-width="1.3" stroke-linecap="butt"/>
<line x1="110.75" y1="695.5" x2="110.75" y2="690" stroke="#151515" stroke-width="1.3" stroke-linecap="butt"/>
<line x1="126.9" y1="695.5" x2="126.9" y2="701.8" stroke="#151515" stroke-width="1.3" stroke-linecap="butt"/>
<line x1="143.05" y1="695.5" x2="143.05" y2="690" stroke="#151515" stroke-width="1.3" stroke-linecap="butt"/>
<line x1="159.2" y1="695.5" x2="159.2" y2="701.8" stroke="#151515" stroke-width="1.3" stroke-linecap="butt"/>
<line x1="175.35" y1="695.5" x2="175.35" y2="690" stroke="#151515" stroke-width="1.3" stroke-linecap="butt"/>
<line x1="191.5" y1="695.5" x2="191.5" y2="701.8" stroke="#151515" stroke-width="1.3" stroke-linecap="butt"/>
<line x1="77.6" y1="695.5" x2="158.75" y2="695.5" stroke="#5da22e" stroke-width="1.7" stroke-linecap="butt"/>
<path d="M159.5 690L164.2 701.2L154.8 701.2Z" fill="#8591c3" stroke="#5f6ca6" stroke-width="0.9" stroke-linejoin="miter"/>
<rect x="165.15" y="690.05" width="7.9" height="7.9" fill="#7b5a94" stroke="#4f2a70" stroke-width="1.3"/>
<line x1="76.95" y1="709.2" x2="159.85" y2="709.2" stroke="#151515" stroke-width="1.3" stroke-linecap="butt"/>
<line x1="77.6" y1="709.2" x2="77.6" y2="703.7" stroke="#151515" stroke-width="1.3" stroke-linecap="butt"/>
<line x1="94.6" y1="709.2" x2="94.6" y2="715.5" stroke="#151515" stroke-width="1.3" stroke-linecap="butt"/>
<line x1="110.75" y1="709.2" x2="110.75" y2="703.7" stroke="#151515" stroke-width="1.3" stroke-linecap="butt"/>
<line x1="126.9" y1="709.2" x2="126.9" y2="715.5" stroke="#151515" stroke-width="1.3" stroke-linecap="butt"/>
<line x1="143.05" y1="709.2" x2="143.05" y2="703.7" stroke="#151515" stroke-width="1.3" stroke-linecap="butt"/>
<line x1="159.2" y1="709.2" x2="159.2" y2="715.5" stroke="#151515" stroke-width="1.3" stroke-linecap="butt"/>
<line x1="76.95" y1="725.8" x2="305.2" y2="725.8" stroke="#151515" stroke-width="1.3" stroke-linecap="butt"/>
<line x1="77.6" y1="725.8" x2="77.6" y2="720.3" stroke="#151515" stroke-width="1.3" stroke-linecap="butt"/>
<line x1="94.6" y1="725.8" x2="94.6" y2="732.1" stroke="#151515" stroke-width="1.3" stroke-linecap="butt"/>
<line x1="110.75" y1="725.8" x2="110.75" y2="720.3" stroke="#151515" stroke-width="1.3" stroke-linecap="butt"/>
<line x1="126.9" y1="725.8" x2="126.9" y2="732.1" stroke="#151515" stroke-width="1.3" stroke-linecap="butt"/>
<line x1="143.05" y1="725.8" x2="143.05" y2="720.3" stroke="#151515" stroke-width="1.3" stroke-linecap="butt"/>
<line x1="159.2" y1="725.8" x2="159.2" y2="732.1" stroke="#151515" stroke-width="1.3" stroke-linecap="butt"/>
<line x1="175.35" y1="725.8" x2="175.35" y2="720.3" stroke="#151515" stroke-width="1.3" stroke-linecap="butt"/>
<line x1="191.5" y1="725.8" x2="191.5" y2="732.1" stroke="#151515" stroke-width="1.3" stroke-linecap="butt"/>
<line x1="207.65" y1="725.8" x2="207.65" y2="720.3" stroke="#151515" stroke-width="1.3" stroke-linecap="butt"/>
<line x1="223.8" y1="725.8" x2="223.8" y2="732.1" stroke="#151515" stroke-width="1.3" stroke-linecap="butt"/>
<line x1="239.95" y1="725.8" x2="239.95" y2="720.3" stroke="#151515" stroke-width="1.3" stroke-linecap="butt"/>
<line x1="256.1" y1="725.8" x2="256.1" y2="732.1" stroke="#151515" stroke-width="1.3" stroke-linecap="butt"/>
<line x1="272.25" y1="725.8" x2="272.25" y2="720.3" stroke="#151515" stroke-width="1.3" stroke-linecap="butt"/>
<line x1="288.4" y1="725.8" x2="288.4" y2="732.1" stroke="#151515" stroke-width="1.3" stroke-linecap="butt"/>
<line x1="304.55" y1="725.8" x2="304.55" y2="720.3" stroke="#151515" stroke-width="1.3" stroke-linecap="butt"/>
<line x1="188.75" y1="726.8" x2="211" y2="726.8" stroke="#8f88cc" stroke-width="1.6" stroke-linecap="butt"/>
<path d="M175 718.8L179.7 730L170.3 730Z" fill="#8591c3" stroke="#5f6ca6" stroke-width="0.9" stroke-linejoin="miter"/>
<rect x="180.15" y="722.05" width="7.9" height="7.9" fill="#d985bb" stroke="#d0177f" stroke-width="1.6"/>
<line x1="76.85" y1="759.4" x2="402" y2="759.4" stroke="#151515" stroke-width="1.3" stroke-linecap="butt"/>
<line x1="77.5" y1="759.4" x2="77.5" y2="753.9" stroke="#151515" stroke-width="1.3" stroke-linecap="butt"/>
<line x1="94.5" y1="759.4" x2="94.5" y2="765.7" stroke="#151515" stroke-width="1.3" stroke-linecap="butt"/>
<line x1="110.65" y1="759.4" x2="110.65" y2="753.9" stroke="#151515" stroke-width="1.3" stroke-linecap="butt"/>
<line x1="126.8" y1="759.4" x2="126.8" y2="765.7" stroke="#151515" stroke-width="1.3" stroke-linecap="butt"/>
<line x1="142.95" y1="759.4" x2="142.95" y2="753.9" stroke="#151515" stroke-width="1.3" stroke-linecap="butt"/>
<line x1="159.1" y1="759.4" x2="159.1" y2="765.7" stroke="#151515" stroke-width="1.3" stroke-linecap="butt"/>
<line x1="175.25" y1="759.4" x2="175.25" y2="753.9" stroke="#151515" stroke-width="1.3" stroke-linecap="butt"/>
<line x1="191.4" y1="759.4" x2="191.4" y2="765.7" stroke="#151515" stroke-width="1.3" stroke-linecap="butt"/>
<line x1="207.55" y1="759.4" x2="207.55" y2="753.9" stroke="#151515" stroke-width="1.3" stroke-linecap="butt"/>
<line x1="223.7" y1="759.4" x2="223.7" y2="765.7" stroke="#151515" stroke-width="1.3" stroke-linecap="butt"/>
<line x1="239.85" y1="759.4" x2="239.85" y2="753.9" stroke="#151515" stroke-width="1.3" stroke-linecap="butt"/>
<line x1="256" y1="759.4" x2="256" y2="765.7" stroke="#151515" stroke-width="1.3" stroke-linecap="butt"/>
<line x1="272.15" y1="759.4" x2="272.15" y2="753.9" stroke="#151515" stroke-width="1.3" stroke-linecap="butt"/>
<line x1="288.3" y1="759.4" x2="288.3" y2="765.7" stroke="#151515" stroke-width="1.3" stroke-linecap="butt"/>
<line x1="304.45" y1="759.4" x2="304.45" y2="753.9" stroke="#151515" stroke-width="1.3" stroke-linecap="butt"/>
<line x1="320.6" y1="759.4" x2="320.6" y2="765.7" stroke="#151515" stroke-width="1.3" stroke-linecap="butt"/>
<line x1="336.75" y1="759.4" x2="336.75" y2="753.9" stroke="#151515" stroke-width="1.3" stroke-linecap="butt"/>
<line x1="352.9" y1="759.4" x2="352.9" y2="765.7" stroke="#151515" stroke-width="1.3" stroke-linecap="butt"/>
<line x1="369.05" y1="759.4" x2="369.05" y2="753.9" stroke="#151515" stroke-width="1.3" stroke-linecap="butt"/>
<line x1="385.2" y1="759.4" x2="385.2" y2="765.7" stroke="#151515" stroke-width="1.3" stroke-linecap="butt"/>
<line x1="401.35" y1="759.4" x2="401.35" y2="753.9" stroke="#151515" stroke-width="1.3" stroke-linecap="butt"/>
<line x1="435.1" y1="759.4" x2="503" y2="759.4" stroke="#151515" stroke-width="1.3" stroke-linecap="butt"/>
<line x1="435.75" y1="759.4" x2="435.75" y2="753.9" stroke="#151515" stroke-width="1.3" stroke-linecap="butt"/>
<line x1="470.75" y1="759.4" x2="470.75" y2="765.7" stroke="#151515" stroke-width="1.3" stroke-linecap="butt"/>
<line x1="502.35" y1="759.4" x2="502.35" y2="753.9" stroke="#151515" stroke-width="1.3" stroke-linecap="butt"/>
<g font-family="Liberation Sans" font-size="14" fill="#231f20" text-anchor="middle" lengthAdjust="spacingAndGlyphs">
<text x="77.7" y="748.8" textLength="7.2">0</text>
<text x="401.4" y="748.8" textLength="14.6">20</text>
<text x="435.6" y="748.8" textLength="14.6">20</text>
<text x="502.7" y="748.8" textLength="14.6">40</text>
</g>
<text x="168.2" y="787.3" font-family="Liberation Sans" font-size="15.3" fill="#231f20" textLength="27.8" lengthAdjust="spacingAndGlyphs">Years</text>
<rect x="51.75" y="817.15" width="7.7" height="7.7" fill="#ffffff" stroke="#c0163e" stroke-width="1.6"/>
<text x="66" y="825.2" font-family="Liberation Sans" font-size="12.3" fill="#b81c44" textLength="31.5" lengthAdjust="spacingAndGlyphs">Death</text>
<polygon points="55.8,832.9 57.33,836.8 61.51,837.05 58.27,839.7 59.33,843.75 55.8,841.5 52.27,843.75 53.33,839.7 50.09,837.05 54.27,836.8" fill="#f1b656" stroke="#e38f18" stroke-width="1.3" stroke-linejoin="miter"/>
<text x="66" y="842.0" font-family="Liberation Sans" font-size="12.3" fill="#e5a12c" textLength="29" lengthAdjust="spacingAndGlyphs">HSCT</text>
<circle cx="55.8" cy="856" r="4.6" fill="#c9c9cc" stroke="#3e485e" stroke-width="1.3"/>
<text x="66" y="859.8" font-family="Liberation Sans" font-size="12.3" fill="#5d6474" textLength="22.6" lengthAdjust="spacingAndGlyphs">HLH</text>
<polygon points="55.8,868.4 59.78,870.7 59.78,875.3 55.8,877.6 51.82,875.3 51.82,870.7" fill="none" stroke="#2b4b8c" stroke-width="1.2"/>
<text x="66" y="876.6" font-family="Liberation Sans" font-size="12.3" fill="#2f4d8e" textLength="41" lengthAdjust="spacingAndGlyphs">Relapse</text>
<path d="M157.3 814.6L162.5 826.6L152.1 826.6Z" fill="#8591c3" stroke="#5f6ca6" stroke-width="0.9" stroke-linejoin="miter"/>
<text x="166" y="825.2" font-family="Liberation Sans" font-size="12.3" fill="#6a75a8" textLength="21.8" lengthAdjust="spacingAndGlyphs">EBV</text>
<rect x="152.7" y="834.2" width="8.6" height="8.6" fill="#7b5a94" stroke="#4f2a70" stroke-width="1.4"/>
<text x="166" y="842.8" font-family="Liberation Sans" font-size="12.3" fill="#4f2a6e" textLength="21.8" lengthAdjust="spacingAndGlyphs">LPD</text>
<rect x="152.7" y="851.6" width="8.6" height="8.6" fill="#d985bb" stroke="#d0177f" stroke-width="1.6"/>
<text x="166" y="860.2" font-family="Liberation Sans" font-size="12.3" fill="#c81a86" textLength="57.5" lengthAdjust="spacingAndGlyphs">Lymphoma</text>
<line x1="272.1" y1="821.4" x2="304" y2="821.4" stroke="#5da22e" stroke-width="1.9" stroke-linecap="butt"/>
<text x="309.2" y="824.9" font-family="Liberation Sans" font-size="12.3" fill="#5da22e" textLength="105.3" lengthAdjust="spacingAndGlyphs">Recurrent infections</text>
<line x1="272.1" y1="838.2" x2="304" y2="838.2" stroke="#5aaae6" stroke-width="1.9" stroke-linecap="butt"/>
<text x="309.2" y="842.0" font-family="Liberation Sans" font-size="12.3" fill="#5aa5e0" textLength="94.3" lengthAdjust="spacingAndGlyphs">Autoinflammation</text>
<line x1="272.1" y1="855.7" x2="304" y2="855.7" stroke="#8f88cc" stroke-width="1.9" stroke-linecap="butt"/>
<text x="309.2" y="859.8" font-family="Liberation Sans" font-size="12.3" fill="#8a82c4" textLength="78.7" lengthAdjust="spacingAndGlyphs">Chemotherapy</text>
</svg>
</body></html>
